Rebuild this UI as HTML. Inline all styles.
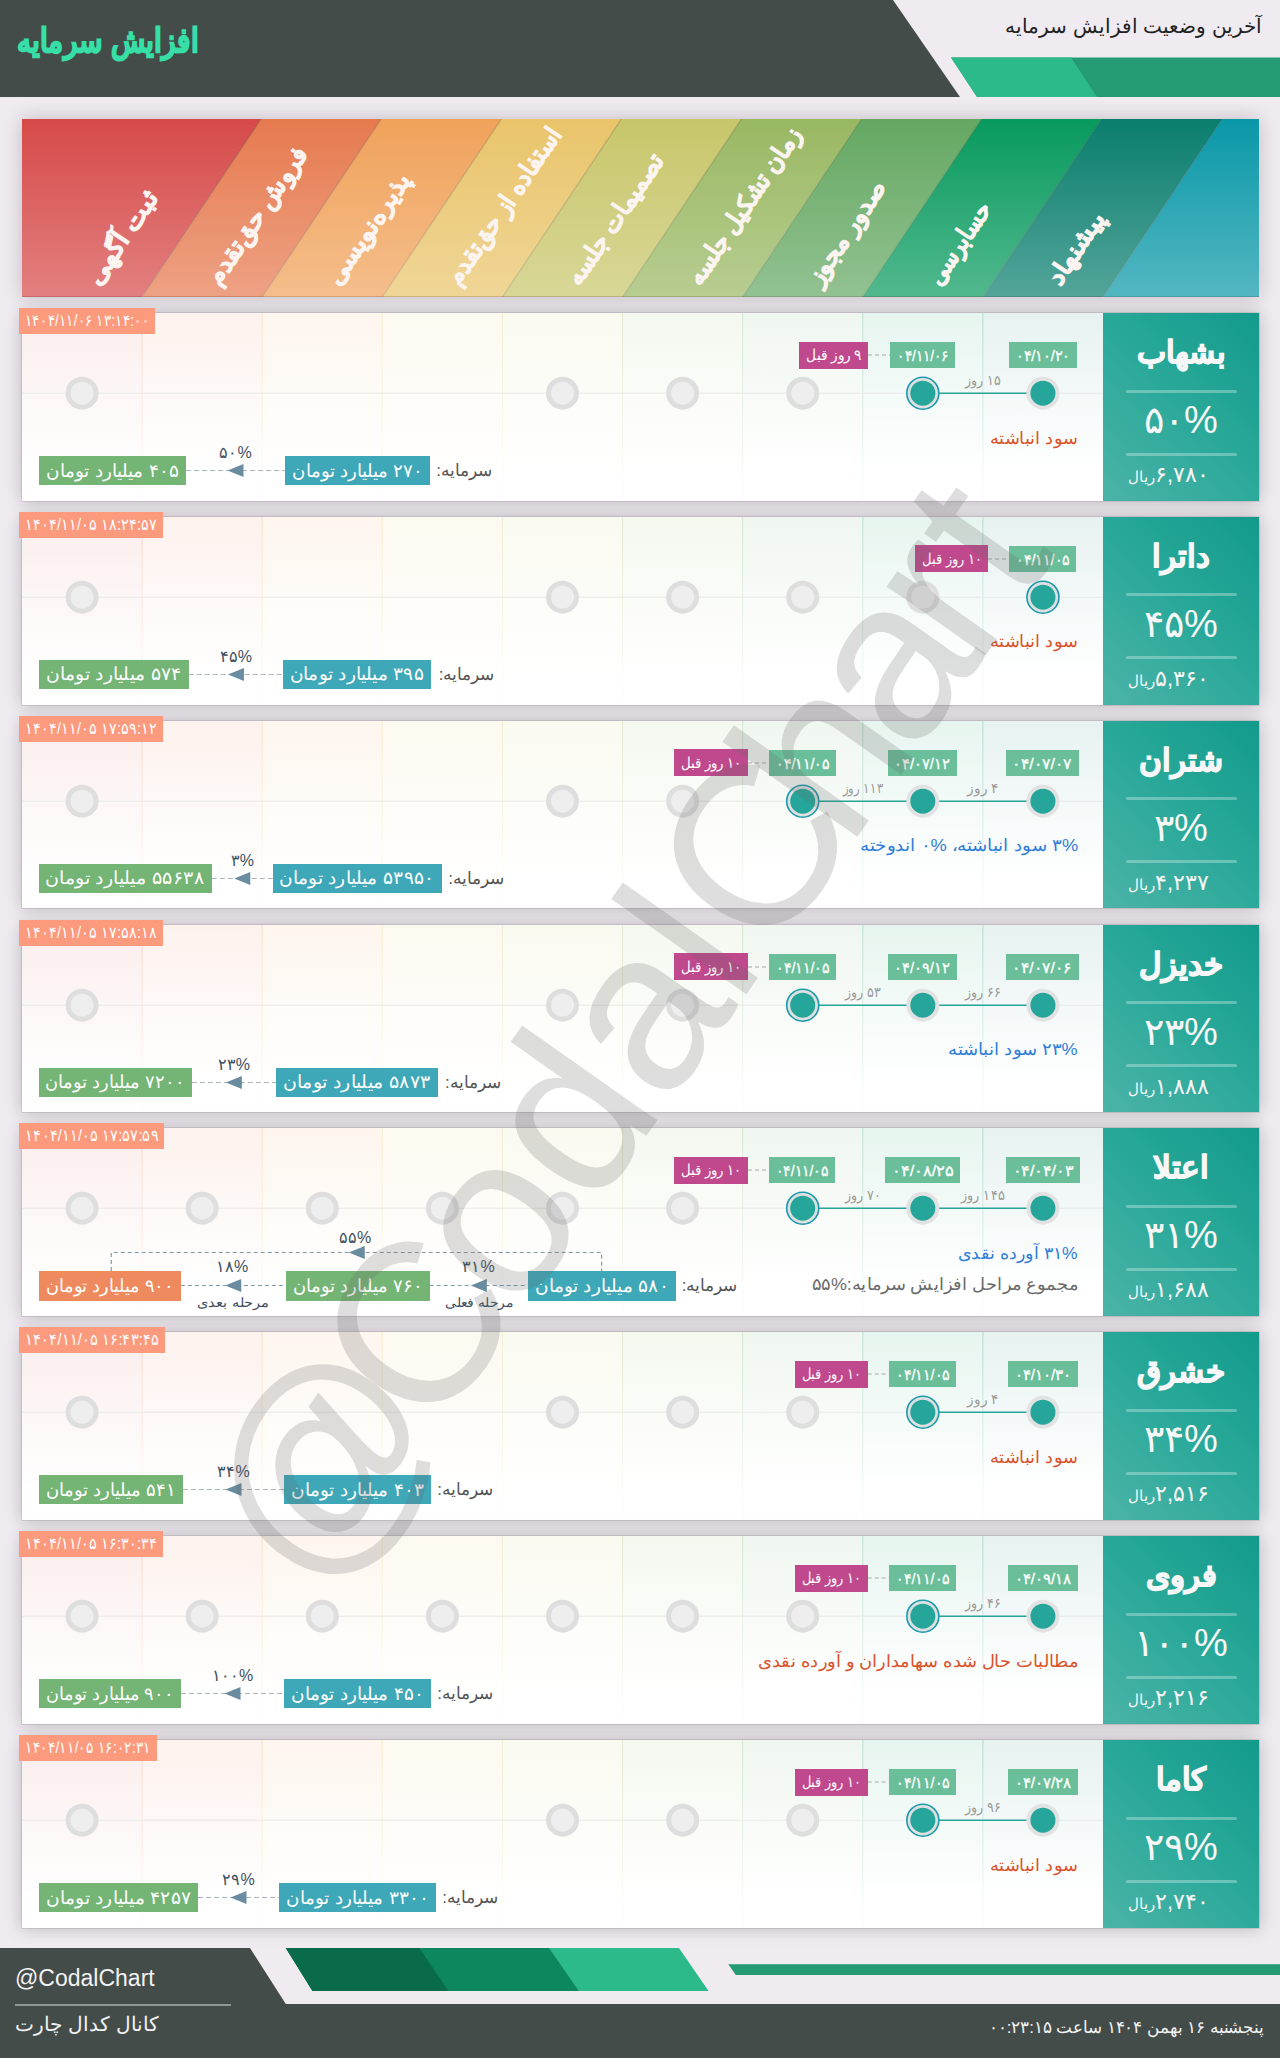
<!DOCTYPE html><html><head><meta charset="utf-8"><style>
*{margin:0;padding:0;box-sizing:border-box}
html,body{width:1280px;height:2058px;overflow:hidden}
body{position:relative;background:#efebf0;font-family:"Liberation Sans", sans-serif;}
.a{position:absolute}
.t{position:absolute;white-space:nowrap;line-height:1}
</style></head><body><svg class="a" style="left:0;top:0" width="1280" height="100"><polygon points="0,0 893,0 960,97 0,97" fill="#444c4a"/><polygon points="951,57.5 1280,57.5 1280,97 977,97" fill="#249b73"/><polygon points="951,57.5 1071,57.5 1097,97 977,97" fill="#2dba8a"/></svg><div class="t" style="left:17px;top:24px;font-size:33px;font-weight:bold;color:#37dea6;-webkit-text-stroke:1.6px #37dea6;direction:rtl;transform:scaleX(0.85);transform-origin:left center">افزایش سرمایه</div><div class="t" style="right:18px;top:16px;font-size:20px;color:#222;direction:rtl">آخرین وضعیت افزایش سرمایه</div><svg class="a" style="left:22px;top:119px;box-shadow:0 0 18px rgba(40,20,40,0.22)" width="1237" height="178"><defs><linearGradient id="wg" x1="0" y1="0" x2="0" y2="1"><stop offset="0" stop-color="#fff" stop-opacity="0"/><stop offset="1" stop-color="#fff" stop-opacity="0.3"/></linearGradient></defs><polygon points="0,0 239.111,0 120.111,178 0,178" fill="#d64a49"/><polygon points="239.111,0 359.222,0 240.222,178 120.111,178" fill="#e67a4f"/><polygon points="359.222,0 479.333,0 360.333,178 240.222,178" fill="#f0a25a"/><polygon points="479.333,0 599.444,0 480.444,178 360.333,178" fill="#e9c46a"/><polygon points="599.444,0 719.5550000000001,0 600.5550000000001,178 480.444,178" fill="#c8c66a"/><polygon points="719.5550000000001,0 839.666,0 720.666,178 600.5550000000001,178" fill="#99b862"/><polygon points="839.666,0 959.777,0 840.777,178 720.666,178" fill="#64a862"/><polygon points="959.777,0 1079.888,0 960.888,178 840.777,178" fill="#089a5e"/><polygon points="1079.888,0 1199.999,0 1080.999,178 960.888,178" fill="#0a7e6e"/><polygon points="1199.999,0 1237,0 1237,178 1080.999,178" fill="#0a98a8"/><line x1="239.111" y1="0" x2="120.111" y2="178" stroke="rgba(30,30,20,0.22)" stroke-width="1.2"/><line x1="359.222" y1="0" x2="240.222" y2="178" stroke="rgba(30,30,20,0.22)" stroke-width="1.2"/><line x1="479.333" y1="0" x2="360.333" y2="178" stroke="rgba(30,30,20,0.22)" stroke-width="1.2"/><line x1="599.444" y1="0" x2="480.444" y2="178" stroke="rgba(30,30,20,0.22)" stroke-width="1.2"/><line x1="719.5550000000001" y1="0" x2="600.5550000000001" y2="178" stroke="rgba(30,30,20,0.22)" stroke-width="1.2"/><line x1="839.666" y1="0" x2="720.666" y2="178" stroke="rgba(30,30,20,0.22)" stroke-width="1.2"/><line x1="959.777" y1="0" x2="840.777" y2="178" stroke="rgba(30,30,20,0.22)" stroke-width="1.2"/><line x1="1079.888" y1="0" x2="960.888" y2="178" stroke="rgba(30,30,20,0.22)" stroke-width="1.2"/><line x1="1199.999" y1="0" x2="1080.999" y2="178" stroke="rgba(30,30,20,0.22)" stroke-width="1.2"/><rect x="0" y="0" width="1237" height="178" fill="url(#wg)"/><rect x="0" y="177" width="1237" height="1" fill="rgba(60,20,20,0.18)"/><text x="77.0" y="168" transform="rotate(-56 77.0 168)" textLength="108" lengthAdjust="spacingAndGlyphs" font-family='"Liberation Sans", sans-serif' font-weight="bold" font-size="25" fill="#fcf4f0" stroke="#fcf4f0" stroke-width="0.8">ثبت آگهی</text><text x="197.1" y="168" transform="rotate(-56 197.1 168)" textLength="161" lengthAdjust="spacingAndGlyphs" font-family='"Liberation Sans", sans-serif' font-weight="bold" font-size="25" fill="#fcf4f0" stroke="#fcf4f0" stroke-width="0.8">فروش حق‌تقدم</text><text x="317.2" y="168" transform="rotate(-56 317.2 168)" textLength="129" lengthAdjust="spacingAndGlyphs" font-family='"Liberation Sans", sans-serif' font-weight="bold" font-size="25" fill="#fcf4f0" stroke="#fcf4f0" stroke-width="0.8">پذیره‌نویسی</text><text x="437.3" y="168" transform="rotate(-56 437.3 168)" textLength="184" lengthAdjust="spacingAndGlyphs" font-family='"Liberation Sans", sans-serif' font-weight="bold" font-size="25" fill="#fcf4f0" stroke="#fcf4f0" stroke-width="0.8">استفاده از حق‌تقدم</text><text x="557.4" y="168" transform="rotate(-56 557.4 168)" textLength="153" lengthAdjust="spacingAndGlyphs" font-family='"Liberation Sans", sans-serif' font-weight="bold" font-size="25" fill="#fcf4f0" stroke="#fcf4f0" stroke-width="0.8">تصمیمات جلسه</text><text x="677.6" y="168" transform="rotate(-56 677.6 168)" textLength="184" lengthAdjust="spacingAndGlyphs" font-family='"Liberation Sans", sans-serif' font-weight="bold" font-size="25" fill="#fcf4f0" stroke="#fcf4f0" stroke-width="0.8">زمان تشکیل جلسه</text><text x="797.7" y="168" transform="rotate(-56 797.7 168)" textLength="120" lengthAdjust="spacingAndGlyphs" font-family='"Liberation Sans", sans-serif' font-weight="bold" font-size="25" fill="#fcf4f0" stroke="#fcf4f0" stroke-width="0.8">صدور مجوز</text><text x="917.8" y="168" transform="rotate(-56 917.8 168)" textLength="94" lengthAdjust="spacingAndGlyphs" font-family='"Liberation Sans", sans-serif' font-weight="bold" font-size="25" fill="#fcf4f0" stroke="#fcf4f0" stroke-width="0.8">حسابرسی</text><text x="1037.9" y="168" transform="rotate(-56 1037.9 168)" textLength="82" lengthAdjust="spacingAndGlyphs" font-family='"Liberation Sans", sans-serif' font-weight="bold" font-size="25" fill="#fcf4f0" stroke="#fcf4f0" stroke-width="0.8">پیشنهاد</text></svg><div class="a" style="left:22px;top:313.00px;width:1237px;height:187.7px;background:#fff;box-shadow:0 0 0 1px rgba(0,0,0,0.09),0 0 16px rgba(40,20,40,0.26)"><svg class="a" style="left:0;top:0" width="1081" height="187"><defs><linearGradient id="cg0_0" x1="0" y1="0" x2="0" y2="1"><stop offset="0" stop-color="rgb(214,74,73)" stop-opacity="0.10"/><stop offset="0.85" stop-color="rgb(214,74,73)" stop-opacity="0"/></linearGradient><linearGradient id="cg0_1" x1="0" y1="0" x2="0" y2="1"><stop offset="0" stop-color="rgb(230,122,79)" stop-opacity="0.10"/><stop offset="0.85" stop-color="rgb(230,122,79)" stop-opacity="0"/></linearGradient><linearGradient id="cg0_2" x1="0" y1="0" x2="0" y2="1"><stop offset="0" stop-color="rgb(240,162,90)" stop-opacity="0.10"/><stop offset="0.85" stop-color="rgb(240,162,90)" stop-opacity="0"/></linearGradient><linearGradient id="cg0_3" x1="0" y1="0" x2="0" y2="1"><stop offset="0" stop-color="rgb(233,196,106)" stop-opacity="0.10"/><stop offset="0.85" stop-color="rgb(233,196,106)" stop-opacity="0"/></linearGradient><linearGradient id="cg0_4" x1="0" y1="0" x2="0" y2="1"><stop offset="0" stop-color="rgb(200,198,106)" stop-opacity="0.10"/><stop offset="0.85" stop-color="rgb(200,198,106)" stop-opacity="0"/></linearGradient><linearGradient id="cg0_5" x1="0" y1="0" x2="0" y2="1"><stop offset="0" stop-color="rgb(153,184,98)" stop-opacity="0.10"/><stop offset="0.85" stop-color="rgb(153,184,98)" stop-opacity="0"/></linearGradient><linearGradient id="cg0_6" x1="0" y1="0" x2="0" y2="1"><stop offset="0" stop-color="rgb(100,168,98)" stop-opacity="0.10"/><stop offset="0.85" stop-color="rgb(100,168,98)" stop-opacity="0"/></linearGradient><linearGradient id="cg0_7" x1="0" y1="0" x2="0" y2="1"><stop offset="0" stop-color="rgb(8,154,94)" stop-opacity="0.10"/><stop offset="0.85" stop-color="rgb(8,154,94)" stop-opacity="0"/></linearGradient><linearGradient id="cg0_8" x1="0" y1="0" x2="0" y2="1"><stop offset="0" stop-color="rgb(10,126,110)" stop-opacity="0.10"/><stop offset="0.85" stop-color="rgb(10,126,110)" stop-opacity="0"/></linearGradient></defs><rect x="0.00" y="0" width="120.11" height="187" fill="url(#cg0_0)"/><rect x="120.11" y="0" width="120.11" height="187" fill="url(#cg0_1)"/><rect x="240.22" y="0" width="120.11" height="187" fill="url(#cg0_2)"/><rect x="360.33" y="0" width="120.11" height="187" fill="url(#cg0_3)"/><rect x="480.44" y="0" width="120.11" height="187" fill="url(#cg0_4)"/><rect x="600.56" y="0" width="120.11" height="187" fill="url(#cg0_5)"/><rect x="720.67" y="0" width="120.11" height="187" fill="url(#cg0_6)"/><rect x="840.78" y="0" width="120.11" height="187" fill="url(#cg0_7)"/><rect x="960.89" y="0" width="120.11" height="187" fill="url(#cg0_8)"/><linearGradient id="lg0_1" x1="0" y1="0" x2="0" y2="1"><stop offset="0" stop-color="rgb(230,122,79)" stop-opacity="0.22"/><stop offset="1" stop-color="rgb(230,122,79)" stop-opacity="0.03"/></linearGradient><rect x="119.61" y="0" width="1" height="187" fill="url(#lg0_1)"/><linearGradient id="lg0_2" x1="0" y1="0" x2="0" y2="1"><stop offset="0" stop-color="rgb(240,162,90)" stop-opacity="0.22"/><stop offset="1" stop-color="rgb(240,162,90)" stop-opacity="0.03"/></linearGradient><rect x="239.72" y="0" width="1" height="187" fill="url(#lg0_2)"/><linearGradient id="lg0_3" x1="0" y1="0" x2="0" y2="1"><stop offset="0" stop-color="rgb(233,196,106)" stop-opacity="0.22"/><stop offset="1" stop-color="rgb(233,196,106)" stop-opacity="0.03"/></linearGradient><rect x="359.83" y="0" width="1" height="187" fill="url(#lg0_3)"/><linearGradient id="lg0_4" x1="0" y1="0" x2="0" y2="1"><stop offset="0" stop-color="rgb(200,198,106)" stop-opacity="0.22"/><stop offset="1" stop-color="rgb(200,198,106)" stop-opacity="0.03"/></linearGradient><rect x="479.94" y="0" width="1" height="187" fill="url(#lg0_4)"/><linearGradient id="lg0_5" x1="0" y1="0" x2="0" y2="1"><stop offset="0" stop-color="rgb(153,184,98)" stop-opacity="0.22"/><stop offset="1" stop-color="rgb(153,184,98)" stop-opacity="0.03"/></linearGradient><rect x="600.06" y="0" width="1" height="187" fill="url(#lg0_5)"/><linearGradient id="lg0_6" x1="0" y1="0" x2="0" y2="1"><stop offset="0" stop-color="rgb(100,168,98)" stop-opacity="0.22"/><stop offset="1" stop-color="rgb(100,168,98)" stop-opacity="0.03"/></linearGradient><rect x="720.17" y="0" width="1" height="187" fill="url(#lg0_6)"/><linearGradient id="lg0_7" x1="0" y1="0" x2="0" y2="1"><stop offset="0" stop-color="rgb(8,154,94)" stop-opacity="0.22"/><stop offset="1" stop-color="rgb(8,154,94)" stop-opacity="0.03"/></linearGradient><rect x="840.28" y="0" width="1" height="187" fill="url(#lg0_7)"/><linearGradient id="lg0_8" x1="0" y1="0" x2="0" y2="1"><stop offset="0" stop-color="rgb(10,126,110)" stop-opacity="0.22"/><stop offset="1" stop-color="rgb(10,126,110)" stop-opacity="0.03"/></linearGradient><rect x="960.39" y="0" width="1" height="187" fill="url(#lg0_8)"/><line x1="0" y1="80.2" x2="1081" y2="80.2" stroke="#e8e8e8" stroke-width="1"/></svg><div class="a" style="left:1081px;top:0;width:156px;height:187.7px;background:linear-gradient(225deg,#129a8b 0%,#2aa99a 50%,#4cb3a8 100%)"></div></div><div id="t1" class="t" style="left:1181.00px;top:352.00px;font-size:31px;color:#f7f7f7;font-weight:bold;direction:rtl;transform:translate(-50%,-50%) scaleX(1.0000);transform-origin:center center;-webkit-text-stroke:1.2px #f7f7f7;">بشهاب</div><div class="a" style="left:1126px;top:389.50px;width:111px;height:3px;border-radius:2px;background:rgba(255,255,255,0.3)"></div><div class="a" style="left:1126px;top:452.50px;width:111px;height:3px;border-radius:2px;background:rgba(255,255,255,0.3)"></div><div id="t2" class="t" style="left:1181.00px;top:420.00px;font-size:38px;color:#f7f7f7;font-weight:normal;direction:rtl;transform:translate(-50%,-50%) scaleX(1.0000);transform-origin:center center;">۵۰%</div><div class="t" style="right:71.0px;top:475.00px;transform:translateY(-50%);color:#f7f7f7;direction:ltr"><span style="display:inline-block;font-size:14.5px">ریال</span><span style="display:inline-block;font-size:22px">۶,۷۸۰</span></div><div class="a" style="left:19px;top:308.00px;width:136px;height:26px;background:#fc9a7e"></div><div id="t3" class="t" style="left:87.00px;top:321.00px;font-size:16px;color:#fff;font-weight:normal;direction:ltr;transform:translate(-50%,-50%) scaleX(0.8378);transform-origin:center center;">۱۴۰۴/۱۱/۰۶ ۱۳:۱۴:۰۰</div><svg class="a" style="left:0;top:313.00px" width="1103" height="187"><line x1="922.83" y1="80.2" x2="1042.94" y2="80.2" stroke="#26a69a" stroke-width="1.6"/><circle cx="82.06" cy="80.2" r="14" fill="#eeeeee" stroke="#dedede" stroke-width="5"/><circle cx="562.50" cy="80.2" r="14" fill="#eeeeee" stroke="#dedede" stroke-width="5"/><circle cx="682.61" cy="80.2" r="14" fill="#eeeeee" stroke="#dedede" stroke-width="5"/><circle cx="802.72" cy="80.2" r="14" fill="#eeeeee" stroke="#dedede" stroke-width="5"/><circle cx="1042.94" cy="80.2" r="14.5" fill="#26a69a" stroke="#e2e2e2" stroke-width="4"/><circle cx="922.83" cy="80.2" r="16" fill="#e0e0e0" stroke="#1b9bae" stroke-width="1.6"/><circle cx="922.83" cy="80.2" r="12.5" fill="#26a69a"/><line x1="868.00" y1="42" x2="890.00" y2="42" stroke="#a8a8a8" stroke-width="1.2" stroke-dasharray="4,3"/></svg><div class="a" style="left:1009.00px;top:342.00px;width:68.00px;height:26px;background:#6abf9a"></div><div id="t4" class="t" style="left:1043.00px;top:355.00px;font-size:15px;color:#fff;font-weight:normal;direction:ltr;transform:translate(-50%,-50%) scaleX(0.9643);transform-origin:center center;-webkit-text-stroke:0.3px #fff;">۰۴/۱۰/۲۰</div><div class="a" style="left:890.00px;top:342.00px;width:65.00px;height:26px;background:#6abf9a"></div><div id="t5" class="t" style="left:922.50px;top:355.00px;font-size:15px;color:#fff;font-weight:normal;direction:ltr;transform:translate(-50%,-50%) scaleX(0.9107);transform-origin:center center;-webkit-text-stroke:0.3px #fff;">۰۴/۱۱/۰۶</div><div class="a" style="left:799.00px;top:341.50px;width:69.00px;height:27px;background:#c0498d"></div><div id="t6" class="t" style="left:833.50px;top:355.00px;font-size:14.5px;color:#fff;font-weight:normal;direction:rtl;transform:translate(-50%,-50%) scaleX(0.9167);transform-origin:center center;">۹ روز قبل</div><div id="t7" class="t" style="left:982.89px;top:380.00px;font-size:14px;color:#999;font-weight:normal;direction:rtl;transform:translate(-50%,-50%) scaleX(0.9024);transform-origin:center center;">۱۵ روز</div><div id="t8" class="t" style="right:202.00px;top:437.50px;font-size:17px;color:#d9532b;font-weight:normal;direction:rtl;transform:translateY(-50%) scaleX(1.0476);transform-origin:right center;">سود انباشته</div><div class="a" style="left:39.00px;top:456.00px;width:147.00px;height:29px;background:#74b474"></div><div id="t9" class="t" style="left:112.50px;top:470.50px;font-size:18px;color:#fff;font-weight:normal;direction:rtl;transform:translate(-50%,-50%) scaleX(1.0231);transform-origin:center center;">۴۰۵ میلیارد تومان</div><div class="a" style="left:285.00px;top:456.00px;width:145.00px;height:29px;background:#3ea7b8"></div><div id="t10" class="t" style="left:357.50px;top:470.50px;font-size:18px;color:#fff;font-weight:normal;direction:rtl;transform:translate(-50%,-50%) scaleX(1.0077);transform-origin:center center;">۲۷۰ میلیارد تومان</div><div id="t11" class="t" style="right:788.00px;top:470.00px;font-size:17px;color:#555;font-weight:normal;direction:rtl;transform:translateY(-50%) scaleX(1.0000);transform-origin:right center;">سرمایه:</div><svg class="a" style="left:0;top:313.00px" width="700" height="187"><line x1="186.00" y1="157.5" x2="285.00" y2="157.5" stroke="#aab4bc" stroke-width="1.2" stroke-dasharray="5,3"/><polygon points="227.50,157.5 243.50,151 243.50,164" fill="#6a8ca0"/></svg><div id="t12" class="t" style="left:235.50px;top:453.00px;font-size:16px;color:#3e5060;font-weight:normal;direction:rtl;transform:translate(-50%,-50%) scaleX(1.0000);transform-origin:center center;">۵۰%</div><div class="a" style="left:22px;top:516.86px;width:1237px;height:187.7px;background:#fff;box-shadow:0 0 0 1px rgba(0,0,0,0.09),0 0 16px rgba(40,20,40,0.26)"><svg class="a" style="left:0;top:0" width="1081" height="187"><defs><linearGradient id="cg1_0" x1="0" y1="0" x2="0" y2="1"><stop offset="0" stop-color="rgb(214,74,73)" stop-opacity="0.10"/><stop offset="0.85" stop-color="rgb(214,74,73)" stop-opacity="0"/></linearGradient><linearGradient id="cg1_1" x1="0" y1="0" x2="0" y2="1"><stop offset="0" stop-color="rgb(230,122,79)" stop-opacity="0.10"/><stop offset="0.85" stop-color="rgb(230,122,79)" stop-opacity="0"/></linearGradient><linearGradient id="cg1_2" x1="0" y1="0" x2="0" y2="1"><stop offset="0" stop-color="rgb(240,162,90)" stop-opacity="0.10"/><stop offset="0.85" stop-color="rgb(240,162,90)" stop-opacity="0"/></linearGradient><linearGradient id="cg1_3" x1="0" y1="0" x2="0" y2="1"><stop offset="0" stop-color="rgb(233,196,106)" stop-opacity="0.10"/><stop offset="0.85" stop-color="rgb(233,196,106)" stop-opacity="0"/></linearGradient><linearGradient id="cg1_4" x1="0" y1="0" x2="0" y2="1"><stop offset="0" stop-color="rgb(200,198,106)" stop-opacity="0.10"/><stop offset="0.85" stop-color="rgb(200,198,106)" stop-opacity="0"/></linearGradient><linearGradient id="cg1_5" x1="0" y1="0" x2="0" y2="1"><stop offset="0" stop-color="rgb(153,184,98)" stop-opacity="0.10"/><stop offset="0.85" stop-color="rgb(153,184,98)" stop-opacity="0"/></linearGradient><linearGradient id="cg1_6" x1="0" y1="0" x2="0" y2="1"><stop offset="0" stop-color="rgb(100,168,98)" stop-opacity="0.10"/><stop offset="0.85" stop-color="rgb(100,168,98)" stop-opacity="0"/></linearGradient><linearGradient id="cg1_7" x1="0" y1="0" x2="0" y2="1"><stop offset="0" stop-color="rgb(8,154,94)" stop-opacity="0.10"/><stop offset="0.85" stop-color="rgb(8,154,94)" stop-opacity="0"/></linearGradient><linearGradient id="cg1_8" x1="0" y1="0" x2="0" y2="1"><stop offset="0" stop-color="rgb(10,126,110)" stop-opacity="0.10"/><stop offset="0.85" stop-color="rgb(10,126,110)" stop-opacity="0"/></linearGradient></defs><rect x="0.00" y="0" width="120.11" height="187" fill="url(#cg1_0)"/><rect x="120.11" y="0" width="120.11" height="187" fill="url(#cg1_1)"/><rect x="240.22" y="0" width="120.11" height="187" fill="url(#cg1_2)"/><rect x="360.33" y="0" width="120.11" height="187" fill="url(#cg1_3)"/><rect x="480.44" y="0" width="120.11" height="187" fill="url(#cg1_4)"/><rect x="600.56" y="0" width="120.11" height="187" fill="url(#cg1_5)"/><rect x="720.67" y="0" width="120.11" height="187" fill="url(#cg1_6)"/><rect x="840.78" y="0" width="120.11" height="187" fill="url(#cg1_7)"/><rect x="960.89" y="0" width="120.11" height="187" fill="url(#cg1_8)"/><linearGradient id="lg1_1" x1="0" y1="0" x2="0" y2="1"><stop offset="0" stop-color="rgb(230,122,79)" stop-opacity="0.22"/><stop offset="1" stop-color="rgb(230,122,79)" stop-opacity="0.03"/></linearGradient><rect x="119.61" y="0" width="1" height="187" fill="url(#lg1_1)"/><linearGradient id="lg1_2" x1="0" y1="0" x2="0" y2="1"><stop offset="0" stop-color="rgb(240,162,90)" stop-opacity="0.22"/><stop offset="1" stop-color="rgb(240,162,90)" stop-opacity="0.03"/></linearGradient><rect x="239.72" y="0" width="1" height="187" fill="url(#lg1_2)"/><linearGradient id="lg1_3" x1="0" y1="0" x2="0" y2="1"><stop offset="0" stop-color="rgb(233,196,106)" stop-opacity="0.22"/><stop offset="1" stop-color="rgb(233,196,106)" stop-opacity="0.03"/></linearGradient><rect x="359.83" y="0" width="1" height="187" fill="url(#lg1_3)"/><linearGradient id="lg1_4" x1="0" y1="0" x2="0" y2="1"><stop offset="0" stop-color="rgb(200,198,106)" stop-opacity="0.22"/><stop offset="1" stop-color="rgb(200,198,106)" stop-opacity="0.03"/></linearGradient><rect x="479.94" y="0" width="1" height="187" fill="url(#lg1_4)"/><linearGradient id="lg1_5" x1="0" y1="0" x2="0" y2="1"><stop offset="0" stop-color="rgb(153,184,98)" stop-opacity="0.22"/><stop offset="1" stop-color="rgb(153,184,98)" stop-opacity="0.03"/></linearGradient><rect x="600.06" y="0" width="1" height="187" fill="url(#lg1_5)"/><linearGradient id="lg1_6" x1="0" y1="0" x2="0" y2="1"><stop offset="0" stop-color="rgb(100,168,98)" stop-opacity="0.22"/><stop offset="1" stop-color="rgb(100,168,98)" stop-opacity="0.03"/></linearGradient><rect x="720.17" y="0" width="1" height="187" fill="url(#lg1_6)"/><linearGradient id="lg1_7" x1="0" y1="0" x2="0" y2="1"><stop offset="0" stop-color="rgb(8,154,94)" stop-opacity="0.22"/><stop offset="1" stop-color="rgb(8,154,94)" stop-opacity="0.03"/></linearGradient><rect x="840.28" y="0" width="1" height="187" fill="url(#lg1_7)"/><linearGradient id="lg1_8" x1="0" y1="0" x2="0" y2="1"><stop offset="0" stop-color="rgb(10,126,110)" stop-opacity="0.22"/><stop offset="1" stop-color="rgb(10,126,110)" stop-opacity="0.03"/></linearGradient><rect x="960.39" y="0" width="1" height="187" fill="url(#lg1_8)"/><line x1="0" y1="80.2" x2="1081" y2="80.2" stroke="#e8e8e8" stroke-width="1"/></svg><div class="a" style="left:1081px;top:0;width:156px;height:187.7px;background:linear-gradient(225deg,#129a8b 0%,#2aa99a 50%,#4cb3a8 100%)"></div></div><div id="t13" class="t" style="left:1181.00px;top:555.86px;font-size:31px;color:#f7f7f7;font-weight:bold;direction:rtl;transform:translate(-50%,-50%) scaleX(1.0000);transform-origin:center center;-webkit-text-stroke:1.2px #f7f7f7;">داترا</div><div class="a" style="left:1126px;top:593.36px;width:111px;height:3px;border-radius:2px;background:rgba(255,255,255,0.3)"></div><div class="a" style="left:1126px;top:656.36px;width:111px;height:3px;border-radius:2px;background:rgba(255,255,255,0.3)"></div><div id="t14" class="t" style="left:1181.00px;top:623.86px;font-size:38px;color:#f7f7f7;font-weight:normal;direction:rtl;transform:translate(-50%,-50%) scaleX(1.0000);transform-origin:center center;">۴۵%</div><div class="t" style="right:71.0px;top:678.86px;transform:translateY(-50%);color:#f7f7f7;direction:ltr"><span style="display:inline-block;font-size:14.5px">ریال</span><span style="display:inline-block;font-size:22px">۵,۳۶۰</span></div><div class="a" style="left:19px;top:511.86px;width:144px;height:26px;background:#fc9a7e"></div><div id="t15" class="t" style="left:91.00px;top:524.86px;font-size:16px;color:#fff;font-weight:normal;direction:ltr;transform:translate(-50%,-50%) scaleX(0.8919);transform-origin:center center;">۱۴۰۴/۱۱/۰۵ ۱۸:۲۴:۵۷</div><svg class="a" style="left:0;top:516.86px" width="1103" height="187"><circle cx="82.06" cy="80.2" r="14" fill="#eeeeee" stroke="#dedede" stroke-width="5"/><circle cx="562.50" cy="80.2" r="14" fill="#eeeeee" stroke="#dedede" stroke-width="5"/><circle cx="682.61" cy="80.2" r="14" fill="#eeeeee" stroke="#dedede" stroke-width="5"/><circle cx="802.72" cy="80.2" r="14" fill="#eeeeee" stroke="#dedede" stroke-width="5"/><circle cx="922.83" cy="80.2" r="14" fill="#eeeeee" stroke="#dedede" stroke-width="5"/><circle cx="1042.94" cy="80.2" r="16" fill="#e0e0e0" stroke="#1b9bae" stroke-width="1.6"/><circle cx="1042.94" cy="80.2" r="12.5" fill="#26a69a"/><line x1="988.00" y1="42" x2="1009.00" y2="42" stroke="#a8a8a8" stroke-width="1.2" stroke-dasharray="4,3"/></svg><div class="a" style="left:1009.00px;top:545.86px;width:67.00px;height:26px;background:#6abf9a"></div><div id="t16" class="t" style="left:1042.50px;top:558.86px;font-size:15px;color:#fff;font-weight:normal;direction:ltr;transform:translate(-50%,-50%) scaleX(0.9464);transform-origin:center center;-webkit-text-stroke:0.3px #fff;">۰۴/۱۱/۰۵</div><div class="a" style="left:915.00px;top:545.36px;width:73.00px;height:27px;background:#c0498d"></div><div id="t17" class="t" style="left:951.50px;top:558.86px;font-size:14.5px;color:#fff;font-weight:normal;direction:rtl;transform:translate(-50%,-50%) scaleX(0.8676);transform-origin:center center;">۱۰ روز قبل</div><div id="t18" class="t" style="right:202.00px;top:641.36px;font-size:17px;color:#d9532b;font-weight:normal;direction:rtl;transform:translateY(-50%) scaleX(1.0476);transform-origin:right center;">سود انباشته</div><div class="a" style="left:39.00px;top:659.86px;width:149.60px;height:29px;background:#74b474"></div><div id="t19" class="t" style="left:113.80px;top:674.36px;font-size:18px;color:#fff;font-weight:normal;direction:rtl;transform:translate(-50%,-50%) scaleX(1.0431);transform-origin:center center;">۵۷۴ میلیارد تومان</div><div class="a" style="left:283.30px;top:659.86px;width:148.20px;height:29px;background:#3ea7b8"></div><div id="t20" class="t" style="left:357.40px;top:674.36px;font-size:18px;color:#fff;font-weight:normal;direction:rtl;transform:translate(-50%,-50%) scaleX(1.0323);transform-origin:center center;">۳۹۵ میلیارد تومان</div><div id="t21" class="t" style="right:785.50px;top:673.86px;font-size:17px;color:#555;font-weight:normal;direction:rtl;transform:translateY(-50%) scaleX(1.0000);transform-origin:right center;">سرمایه:</div><svg class="a" style="left:0;top:516.86px" width="700" height="187"><line x1="188.60" y1="157.5" x2="283.30" y2="157.5" stroke="#aab4bc" stroke-width="1.2" stroke-dasharray="5,3"/><polygon points="227.95,157.5 243.95,151 243.95,164" fill="#6a8ca0"/></svg><div id="t22" class="t" style="left:235.95px;top:656.86px;font-size:16px;color:#3e5060;font-weight:normal;direction:rtl;transform:translate(-50%,-50%) scaleX(1.0000);transform-origin:center center;">۴۵%</div><div class="a" style="left:22px;top:720.71px;width:1237px;height:187.7px;background:#fff;box-shadow:0 0 0 1px rgba(0,0,0,0.09),0 0 16px rgba(40,20,40,0.26)"><svg class="a" style="left:0;top:0" width="1081" height="187"><defs><linearGradient id="cg2_0" x1="0" y1="0" x2="0" y2="1"><stop offset="0" stop-color="rgb(214,74,73)" stop-opacity="0.10"/><stop offset="0.85" stop-color="rgb(214,74,73)" stop-opacity="0"/></linearGradient><linearGradient id="cg2_1" x1="0" y1="0" x2="0" y2="1"><stop offset="0" stop-color="rgb(230,122,79)" stop-opacity="0.10"/><stop offset="0.85" stop-color="rgb(230,122,79)" stop-opacity="0"/></linearGradient><linearGradient id="cg2_2" x1="0" y1="0" x2="0" y2="1"><stop offset="0" stop-color="rgb(240,162,90)" stop-opacity="0.10"/><stop offset="0.85" stop-color="rgb(240,162,90)" stop-opacity="0"/></linearGradient><linearGradient id="cg2_3" x1="0" y1="0" x2="0" y2="1"><stop offset="0" stop-color="rgb(233,196,106)" stop-opacity="0.10"/><stop offset="0.85" stop-color="rgb(233,196,106)" stop-opacity="0"/></linearGradient><linearGradient id="cg2_4" x1="0" y1="0" x2="0" y2="1"><stop offset="0" stop-color="rgb(200,198,106)" stop-opacity="0.10"/><stop offset="0.85" stop-color="rgb(200,198,106)" stop-opacity="0"/></linearGradient><linearGradient id="cg2_5" x1="0" y1="0" x2="0" y2="1"><stop offset="0" stop-color="rgb(153,184,98)" stop-opacity="0.10"/><stop offset="0.85" stop-color="rgb(153,184,98)" stop-opacity="0"/></linearGradient><linearGradient id="cg2_6" x1="0" y1="0" x2="0" y2="1"><stop offset="0" stop-color="rgb(100,168,98)" stop-opacity="0.10"/><stop offset="0.85" stop-color="rgb(100,168,98)" stop-opacity="0"/></linearGradient><linearGradient id="cg2_7" x1="0" y1="0" x2="0" y2="1"><stop offset="0" stop-color="rgb(8,154,94)" stop-opacity="0.10"/><stop offset="0.85" stop-color="rgb(8,154,94)" stop-opacity="0"/></linearGradient><linearGradient id="cg2_8" x1="0" y1="0" x2="0" y2="1"><stop offset="0" stop-color="rgb(10,126,110)" stop-opacity="0.10"/><stop offset="0.85" stop-color="rgb(10,126,110)" stop-opacity="0"/></linearGradient></defs><rect x="0.00" y="0" width="120.11" height="187" fill="url(#cg2_0)"/><rect x="120.11" y="0" width="120.11" height="187" fill="url(#cg2_1)"/><rect x="240.22" y="0" width="120.11" height="187" fill="url(#cg2_2)"/><rect x="360.33" y="0" width="120.11" height="187" fill="url(#cg2_3)"/><rect x="480.44" y="0" width="120.11" height="187" fill="url(#cg2_4)"/><rect x="600.56" y="0" width="120.11" height="187" fill="url(#cg2_5)"/><rect x="720.67" y="0" width="120.11" height="187" fill="url(#cg2_6)"/><rect x="840.78" y="0" width="120.11" height="187" fill="url(#cg2_7)"/><rect x="960.89" y="0" width="120.11" height="187" fill="url(#cg2_8)"/><linearGradient id="lg2_1" x1="0" y1="0" x2="0" y2="1"><stop offset="0" stop-color="rgb(230,122,79)" stop-opacity="0.22"/><stop offset="1" stop-color="rgb(230,122,79)" stop-opacity="0.03"/></linearGradient><rect x="119.61" y="0" width="1" height="187" fill="url(#lg2_1)"/><linearGradient id="lg2_2" x1="0" y1="0" x2="0" y2="1"><stop offset="0" stop-color="rgb(240,162,90)" stop-opacity="0.22"/><stop offset="1" stop-color="rgb(240,162,90)" stop-opacity="0.03"/></linearGradient><rect x="239.72" y="0" width="1" height="187" fill="url(#lg2_2)"/><linearGradient id="lg2_3" x1="0" y1="0" x2="0" y2="1"><stop offset="0" stop-color="rgb(233,196,106)" stop-opacity="0.22"/><stop offset="1" stop-color="rgb(233,196,106)" stop-opacity="0.03"/></linearGradient><rect x="359.83" y="0" width="1" height="187" fill="url(#lg2_3)"/><linearGradient id="lg2_4" x1="0" y1="0" x2="0" y2="1"><stop offset="0" stop-color="rgb(200,198,106)" stop-opacity="0.22"/><stop offset="1" stop-color="rgb(200,198,106)" stop-opacity="0.03"/></linearGradient><rect x="479.94" y="0" width="1" height="187" fill="url(#lg2_4)"/><linearGradient id="lg2_5" x1="0" y1="0" x2="0" y2="1"><stop offset="0" stop-color="rgb(153,184,98)" stop-opacity="0.22"/><stop offset="1" stop-color="rgb(153,184,98)" stop-opacity="0.03"/></linearGradient><rect x="600.06" y="0" width="1" height="187" fill="url(#lg2_5)"/><linearGradient id="lg2_6" x1="0" y1="0" x2="0" y2="1"><stop offset="0" stop-color="rgb(100,168,98)" stop-opacity="0.22"/><stop offset="1" stop-color="rgb(100,168,98)" stop-opacity="0.03"/></linearGradient><rect x="720.17" y="0" width="1" height="187" fill="url(#lg2_6)"/><linearGradient id="lg2_7" x1="0" y1="0" x2="0" y2="1"><stop offset="0" stop-color="rgb(8,154,94)" stop-opacity="0.22"/><stop offset="1" stop-color="rgb(8,154,94)" stop-opacity="0.03"/></linearGradient><rect x="840.28" y="0" width="1" height="187" fill="url(#lg2_7)"/><linearGradient id="lg2_8" x1="0" y1="0" x2="0" y2="1"><stop offset="0" stop-color="rgb(10,126,110)" stop-opacity="0.22"/><stop offset="1" stop-color="rgb(10,126,110)" stop-opacity="0.03"/></linearGradient><rect x="960.39" y="0" width="1" height="187" fill="url(#lg2_8)"/><line x1="0" y1="80.2" x2="1081" y2="80.2" stroke="#e8e8e8" stroke-width="1"/></svg><div class="a" style="left:1081px;top:0;width:156px;height:187.7px;background:linear-gradient(225deg,#129a8b 0%,#2aa99a 50%,#4cb3a8 100%)"></div></div><div id="t23" class="t" style="left:1181.00px;top:759.71px;font-size:31px;color:#f7f7f7;font-weight:bold;direction:rtl;transform:translate(-50%,-50%) scaleX(1.0000);transform-origin:center center;-webkit-text-stroke:1.2px #f7f7f7;">شتران</div><div class="a" style="left:1126px;top:797.21px;width:111px;height:3px;border-radius:2px;background:rgba(255,255,255,0.3)"></div><div class="a" style="left:1126px;top:860.21px;width:111px;height:3px;border-radius:2px;background:rgba(255,255,255,0.3)"></div><div id="t24" class="t" style="left:1181.00px;top:827.71px;font-size:38px;color:#f7f7f7;font-weight:normal;direction:rtl;transform:translate(-50%,-50%) scaleX(1.0000);transform-origin:center center;">۳%</div><div class="t" style="right:71.0px;top:882.71px;transform:translateY(-50%);color:#f7f7f7;direction:ltr"><span style="display:inline-block;font-size:14.5px">ریال</span><span style="display:inline-block;font-size:22px">۴,۲۳۷</span></div><div class="a" style="left:19px;top:715.71px;width:144px;height:26px;background:#fc9a7e"></div><div id="t25" class="t" style="left:91.00px;top:728.71px;font-size:16px;color:#fff;font-weight:normal;direction:ltr;transform:translate(-50%,-50%) scaleX(0.8919);transform-origin:center center;">۱۴۰۴/۱۱/۰۵ ۱۷:۵۹:۱۲</div><svg class="a" style="left:0;top:720.71px" width="1103" height="187"><line x1="802.72" y1="80.2" x2="1042.94" y2="80.2" stroke="#26a69a" stroke-width="1.6"/><circle cx="82.06" cy="80.2" r="14" fill="#eeeeee" stroke="#dedede" stroke-width="5"/><circle cx="562.50" cy="80.2" r="14" fill="#eeeeee" stroke="#dedede" stroke-width="5"/><circle cx="682.61" cy="80.2" r="14" fill="#eeeeee" stroke="#dedede" stroke-width="5"/><circle cx="922.83" cy="80.2" r="14.5" fill="#26a69a" stroke="#e2e2e2" stroke-width="4"/><circle cx="1042.94" cy="80.2" r="14.5" fill="#26a69a" stroke="#e2e2e2" stroke-width="4"/><circle cx="802.72" cy="80.2" r="16" fill="#e0e0e0" stroke="#1b9bae" stroke-width="1.6"/><circle cx="802.72" cy="80.2" r="12.5" fill="#26a69a"/><line x1="748.00" y1="42" x2="769.30" y2="42" stroke="#a8a8a8" stroke-width="1.2" stroke-dasharray="4,3"/></svg><div class="a" style="left:1006.00px;top:749.71px;width:72.70px;height:26px;background:#6abf9a"></div><div id="t26" class="t" style="left:1042.35px;top:762.71px;font-size:15px;color:#fff;font-weight:normal;direction:ltr;transform:translate(-50%,-50%) scaleX(1.0482);transform-origin:center center;-webkit-text-stroke:0.3px #fff;">۰۴/۰۷/۰۷</div><div class="a" style="left:888.00px;top:749.71px;width:68.70px;height:26px;background:#6abf9a"></div><div id="t27" class="t" style="left:922.35px;top:762.71px;font-size:15px;color:#fff;font-weight:normal;direction:ltr;transform:translate(-50%,-50%) scaleX(0.9768);transform-origin:center center;-webkit-text-stroke:0.3px #fff;">۰۴/۰۷/۱۲</div><div class="a" style="left:769.30px;top:749.71px;width:66.70px;height:26px;background:#6abf9a"></div><div id="t28" class="t" style="left:802.65px;top:762.71px;font-size:15px;color:#fff;font-weight:normal;direction:ltr;transform:translate(-50%,-50%) scaleX(0.9411);transform-origin:center center;-webkit-text-stroke:0.3px #fff;">۰۴/۱۱/۰۵</div><div class="a" style="left:673.75px;top:749.21px;width:74.25px;height:27px;background:#c0498d"></div><div id="t29" class="t" style="left:710.88px;top:762.71px;font-size:14.5px;color:#fff;font-weight:normal;direction:rtl;transform:translate(-50%,-50%) scaleX(0.8860);transform-origin:center center;">۱۰ روز قبل</div><div id="t30" class="t" style="left:982.89px;top:787.71px;font-size:14px;color:#999;font-weight:normal;direction:rtl;transform:translate(-50%,-50%) scaleX(0.9697);transform-origin:center center;">۴ روز</div><div id="t31" class="t" style="left:862.78px;top:787.71px;font-size:14px;color:#999;font-weight:normal;direction:rtl;transform:translate(-50%,-50%) scaleX(0.8367);transform-origin:center center;">۱۱۳ روز</div><div id="t32" class="t" style="right:202.00px;top:845.21px;font-size:17px;color:#2f7ed8;font-weight:normal;direction:rtl;transform:translateY(-50%) scaleX(1.0739);transform-origin:right center;">۳% سود انباشته، <bdi dir="ltr">۰%</bdi> اندوخته</div><div class="a" style="left:38.70px;top:863.71px;width:173.10px;height:29px;background:#74b474"></div><div id="t33" class="t" style="left:125.25px;top:878.21px;font-size:18px;color:#fff;font-weight:normal;direction:rtl;transform:translate(-50%,-50%) scaleX(1.0607);transform-origin:center center;">۵۵۶۳۸ میلیارد تومان</div><div class="a" style="left:272.70px;top:863.71px;width:169.00px;height:29px;background:#3ea7b8"></div><div id="t34" class="t" style="left:357.20px;top:878.21px;font-size:18px;color:#fff;font-weight:normal;direction:rtl;transform:translate(-50%,-50%) scaleX(1.0333);transform-origin:center center;">۵۳۹۵۰ میلیارد تومان</div><div id="t35" class="t" style="right:776.00px;top:877.71px;font-size:17px;color:#555;font-weight:normal;direction:rtl;transform:translateY(-50%) scaleX(1.0000);transform-origin:right center;">سرمایه:</div><svg class="a" style="left:0;top:720.71px" width="700" height="187"><line x1="211.80" y1="157.5" x2="272.70" y2="157.5" stroke="#aab4bc" stroke-width="1.2" stroke-dasharray="5,3"/><polygon points="234.25,157.5 250.25,151 250.25,164" fill="#6a8ca0"/></svg><div id="t36" class="t" style="left:242.25px;top:860.71px;font-size:16px;color:#3e5060;font-weight:normal;direction:rtl;transform:translate(-50%,-50%) scaleX(1.0000);transform-origin:center center;">۳%</div><div class="a" style="left:22px;top:924.57px;width:1237px;height:187.7px;background:#fff;box-shadow:0 0 0 1px rgba(0,0,0,0.09),0 0 16px rgba(40,20,40,0.26)"><svg class="a" style="left:0;top:0" width="1081" height="187"><defs><linearGradient id="cg3_0" x1="0" y1="0" x2="0" y2="1"><stop offset="0" stop-color="rgb(214,74,73)" stop-opacity="0.10"/><stop offset="0.85" stop-color="rgb(214,74,73)" stop-opacity="0"/></linearGradient><linearGradient id="cg3_1" x1="0" y1="0" x2="0" y2="1"><stop offset="0" stop-color="rgb(230,122,79)" stop-opacity="0.10"/><stop offset="0.85" stop-color="rgb(230,122,79)" stop-opacity="0"/></linearGradient><linearGradient id="cg3_2" x1="0" y1="0" x2="0" y2="1"><stop offset="0" stop-color="rgb(240,162,90)" stop-opacity="0.10"/><stop offset="0.85" stop-color="rgb(240,162,90)" stop-opacity="0"/></linearGradient><linearGradient id="cg3_3" x1="0" y1="0" x2="0" y2="1"><stop offset="0" stop-color="rgb(233,196,106)" stop-opacity="0.10"/><stop offset="0.85" stop-color="rgb(233,196,106)" stop-opacity="0"/></linearGradient><linearGradient id="cg3_4" x1="0" y1="0" x2="0" y2="1"><stop offset="0" stop-color="rgb(200,198,106)" stop-opacity="0.10"/><stop offset="0.85" stop-color="rgb(200,198,106)" stop-opacity="0"/></linearGradient><linearGradient id="cg3_5" x1="0" y1="0" x2="0" y2="1"><stop offset="0" stop-color="rgb(153,184,98)" stop-opacity="0.10"/><stop offset="0.85" stop-color="rgb(153,184,98)" stop-opacity="0"/></linearGradient><linearGradient id="cg3_6" x1="0" y1="0" x2="0" y2="1"><stop offset="0" stop-color="rgb(100,168,98)" stop-opacity="0.10"/><stop offset="0.85" stop-color="rgb(100,168,98)" stop-opacity="0"/></linearGradient><linearGradient id="cg3_7" x1="0" y1="0" x2="0" y2="1"><stop offset="0" stop-color="rgb(8,154,94)" stop-opacity="0.10"/><stop offset="0.85" stop-color="rgb(8,154,94)" stop-opacity="0"/></linearGradient><linearGradient id="cg3_8" x1="0" y1="0" x2="0" y2="1"><stop offset="0" stop-color="rgb(10,126,110)" stop-opacity="0.10"/><stop offset="0.85" stop-color="rgb(10,126,110)" stop-opacity="0"/></linearGradient></defs><rect x="0.00" y="0" width="120.11" height="187" fill="url(#cg3_0)"/><rect x="120.11" y="0" width="120.11" height="187" fill="url(#cg3_1)"/><rect x="240.22" y="0" width="120.11" height="187" fill="url(#cg3_2)"/><rect x="360.33" y="0" width="120.11" height="187" fill="url(#cg3_3)"/><rect x="480.44" y="0" width="120.11" height="187" fill="url(#cg3_4)"/><rect x="600.56" y="0" width="120.11" height="187" fill="url(#cg3_5)"/><rect x="720.67" y="0" width="120.11" height="187" fill="url(#cg3_6)"/><rect x="840.78" y="0" width="120.11" height="187" fill="url(#cg3_7)"/><rect x="960.89" y="0" width="120.11" height="187" fill="url(#cg3_8)"/><linearGradient id="lg3_1" x1="0" y1="0" x2="0" y2="1"><stop offset="0" stop-color="rgb(230,122,79)" stop-opacity="0.22"/><stop offset="1" stop-color="rgb(230,122,79)" stop-opacity="0.03"/></linearGradient><rect x="119.61" y="0" width="1" height="187" fill="url(#lg3_1)"/><linearGradient id="lg3_2" x1="0" y1="0" x2="0" y2="1"><stop offset="0" stop-color="rgb(240,162,90)" stop-opacity="0.22"/><stop offset="1" stop-color="rgb(240,162,90)" stop-opacity="0.03"/></linearGradient><rect x="239.72" y="0" width="1" height="187" fill="url(#lg3_2)"/><linearGradient id="lg3_3" x1="0" y1="0" x2="0" y2="1"><stop offset="0" stop-color="rgb(233,196,106)" stop-opacity="0.22"/><stop offset="1" stop-color="rgb(233,196,106)" stop-opacity="0.03"/></linearGradient><rect x="359.83" y="0" width="1" height="187" fill="url(#lg3_3)"/><linearGradient id="lg3_4" x1="0" y1="0" x2="0" y2="1"><stop offset="0" stop-color="rgb(200,198,106)" stop-opacity="0.22"/><stop offset="1" stop-color="rgb(200,198,106)" stop-opacity="0.03"/></linearGradient><rect x="479.94" y="0" width="1" height="187" fill="url(#lg3_4)"/><linearGradient id="lg3_5" x1="0" y1="0" x2="0" y2="1"><stop offset="0" stop-color="rgb(153,184,98)" stop-opacity="0.22"/><stop offset="1" stop-color="rgb(153,184,98)" stop-opacity="0.03"/></linearGradient><rect x="600.06" y="0" width="1" height="187" fill="url(#lg3_5)"/><linearGradient id="lg3_6" x1="0" y1="0" x2="0" y2="1"><stop offset="0" stop-color="rgb(100,168,98)" stop-opacity="0.22"/><stop offset="1" stop-color="rgb(100,168,98)" stop-opacity="0.03"/></linearGradient><rect x="720.17" y="0" width="1" height="187" fill="url(#lg3_6)"/><linearGradient id="lg3_7" x1="0" y1="0" x2="0" y2="1"><stop offset="0" stop-color="rgb(8,154,94)" stop-opacity="0.22"/><stop offset="1" stop-color="rgb(8,154,94)" stop-opacity="0.03"/></linearGradient><rect x="840.28" y="0" width="1" height="187" fill="url(#lg3_7)"/><linearGradient id="lg3_8" x1="0" y1="0" x2="0" y2="1"><stop offset="0" stop-color="rgb(10,126,110)" stop-opacity="0.22"/><stop offset="1" stop-color="rgb(10,126,110)" stop-opacity="0.03"/></linearGradient><rect x="960.39" y="0" width="1" height="187" fill="url(#lg3_8)"/><line x1="0" y1="80.2" x2="1081" y2="80.2" stroke="#e8e8e8" stroke-width="1"/></svg><div class="a" style="left:1081px;top:0;width:156px;height:187.7px;background:linear-gradient(225deg,#129a8b 0%,#2aa99a 50%,#4cb3a8 100%)"></div></div><div id="t37" class="t" style="left:1181.00px;top:963.57px;font-size:31px;color:#f7f7f7;font-weight:bold;direction:rtl;transform:translate(-50%,-50%) scaleX(1.0000);transform-origin:center center;-webkit-text-stroke:1.2px #f7f7f7;">خدیزل</div><div class="a" style="left:1126px;top:1001.07px;width:111px;height:3px;border-radius:2px;background:rgba(255,255,255,0.3)"></div><div class="a" style="left:1126px;top:1064.07px;width:111px;height:3px;border-radius:2px;background:rgba(255,255,255,0.3)"></div><div id="t38" class="t" style="left:1181.00px;top:1031.57px;font-size:38px;color:#f7f7f7;font-weight:normal;direction:rtl;transform:translate(-50%,-50%) scaleX(1.0000);transform-origin:center center;">۲۳%</div><div class="t" style="right:71.0px;top:1086.57px;transform:translateY(-50%);color:#f7f7f7;direction:ltr"><span style="display:inline-block;font-size:14.5px">ریال</span><span style="display:inline-block;font-size:22px">۱,۸۸۸</span></div><div class="a" style="left:19px;top:919.57px;width:144px;height:26px;background:#fc9a7e"></div><div id="t39" class="t" style="left:91.00px;top:932.57px;font-size:16px;color:#fff;font-weight:normal;direction:ltr;transform:translate(-50%,-50%) scaleX(0.8919);transform-origin:center center;">۱۴۰۴/۱۱/۰۵ ۱۷:۵۸:۱۸</div><svg class="a" style="left:0;top:924.57px" width="1103" height="187"><line x1="802.72" y1="80.2" x2="1042.94" y2="80.2" stroke="#26a69a" stroke-width="1.6"/><circle cx="82.06" cy="80.2" r="14" fill="#eeeeee" stroke="#dedede" stroke-width="5"/><circle cx="562.50" cy="80.2" r="14" fill="#eeeeee" stroke="#dedede" stroke-width="5"/><circle cx="682.61" cy="80.2" r="14" fill="#eeeeee" stroke="#dedede" stroke-width="5"/><circle cx="922.83" cy="80.2" r="14.5" fill="#26a69a" stroke="#e2e2e2" stroke-width="4"/><circle cx="1042.94" cy="80.2" r="14.5" fill="#26a69a" stroke="#e2e2e2" stroke-width="4"/><circle cx="802.72" cy="80.2" r="16" fill="#e0e0e0" stroke="#1b9bae" stroke-width="1.6"/><circle cx="802.72" cy="80.2" r="12.5" fill="#26a69a"/><line x1="748.00" y1="42" x2="769.30" y2="42" stroke="#a8a8a8" stroke-width="1.2" stroke-dasharray="4,3"/></svg><div class="a" style="left:1006.00px;top:953.57px;width:72.70px;height:26px;background:#6abf9a"></div><div id="t40" class="t" style="left:1042.35px;top:966.57px;font-size:15px;color:#fff;font-weight:normal;direction:ltr;transform:translate(-50%,-50%) scaleX(1.0482);transform-origin:center center;-webkit-text-stroke:0.3px #fff;">۰۴/۰۷/۰۶</div><div class="a" style="left:888.00px;top:953.57px;width:68.70px;height:26px;background:#6abf9a"></div><div id="t41" class="t" style="left:922.35px;top:966.57px;font-size:15px;color:#fff;font-weight:normal;direction:ltr;transform:translate(-50%,-50%) scaleX(0.9768);transform-origin:center center;-webkit-text-stroke:0.3px #fff;">۰۴/۰۹/۱۲</div><div class="a" style="left:769.30px;top:953.57px;width:66.70px;height:26px;background:#6abf9a"></div><div id="t42" class="t" style="left:802.65px;top:966.57px;font-size:15px;color:#fff;font-weight:normal;direction:ltr;transform:translate(-50%,-50%) scaleX(0.9411);transform-origin:center center;-webkit-text-stroke:0.3px #fff;">۰۴/۱۱/۰۵</div><div class="a" style="left:673.75px;top:953.07px;width:74.25px;height:27px;background:#c0498d"></div><div id="t43" class="t" style="left:710.88px;top:966.57px;font-size:14.5px;color:#fff;font-weight:normal;direction:rtl;transform:translate(-50%,-50%) scaleX(0.8860);transform-origin:center center;">۱۰ روز قبل</div><div id="t44" class="t" style="left:982.89px;top:991.57px;font-size:14px;color:#999;font-weight:normal;direction:rtl;transform:translate(-50%,-50%) scaleX(0.9024);transform-origin:center center;">۶۶ روز</div><div id="t45" class="t" style="left:862.78px;top:991.57px;font-size:14px;color:#999;font-weight:normal;direction:rtl;transform:translate(-50%,-50%) scaleX(0.9024);transform-origin:center center;">۵۳ روز</div><div id="t46" class="t" style="right:202.00px;top:1049.07px;font-size:17px;color:#2f7ed8;font-weight:normal;direction:rtl;transform:translateY(-50%) scaleX(1.0656);transform-origin:right center;">۲۳% سود انباشته</div><div class="a" style="left:38.70px;top:1067.57px;width:153.10px;height:29px;background:#74b474"></div><div id="t47" class="t" style="left:115.25px;top:1082.07px;font-size:18px;color:#fff;font-weight:normal;direction:rtl;transform:translate(-50%,-50%) scaleX(0.9936);transform-origin:center center;">۷۲۰۰ میلیارد تومان</div><div class="a" style="left:276.00px;top:1067.57px;width:161.60px;height:29px;background:#3ea7b8"></div><div id="t48" class="t" style="left:356.80px;top:1082.07px;font-size:18px;color:#fff;font-weight:normal;direction:rtl;transform:translate(-50%,-50%) scaleX(1.0543);transform-origin:center center;">۵۸۷۳ میلیارد تومان</div><div id="t49" class="t" style="right:779.40px;top:1081.57px;font-size:17px;color:#555;font-weight:normal;direction:rtl;transform:translateY(-50%) scaleX(1.0000);transform-origin:right center;">سرمایه:</div><svg class="a" style="left:0;top:924.57px" width="700" height="187"><line x1="191.80" y1="157.5" x2="276.00" y2="157.5" stroke="#aab4bc" stroke-width="1.2" stroke-dasharray="5,3"/><polygon points="225.90,157.5 241.90,151 241.90,164" fill="#6a8ca0"/></svg><div id="t50" class="t" style="left:233.90px;top:1064.57px;font-size:16px;color:#3e5060;font-weight:normal;direction:rtl;transform:translate(-50%,-50%) scaleX(1.0000);transform-origin:center center;">۲۳%</div><div class="a" style="left:22px;top:1128.43px;width:1237px;height:187.7px;background:#fff;box-shadow:0 0 0 1px rgba(0,0,0,0.09),0 0 16px rgba(40,20,40,0.26)"><svg class="a" style="left:0;top:0" width="1081" height="187"><defs><linearGradient id="cg4_0" x1="0" y1="0" x2="0" y2="1"><stop offset="0" stop-color="rgb(214,74,73)" stop-opacity="0.10"/><stop offset="0.85" stop-color="rgb(214,74,73)" stop-opacity="0"/></linearGradient><linearGradient id="cg4_1" x1="0" y1="0" x2="0" y2="1"><stop offset="0" stop-color="rgb(230,122,79)" stop-opacity="0.10"/><stop offset="0.85" stop-color="rgb(230,122,79)" stop-opacity="0"/></linearGradient><linearGradient id="cg4_2" x1="0" y1="0" x2="0" y2="1"><stop offset="0" stop-color="rgb(240,162,90)" stop-opacity="0.10"/><stop offset="0.85" stop-color="rgb(240,162,90)" stop-opacity="0"/></linearGradient><linearGradient id="cg4_3" x1="0" y1="0" x2="0" y2="1"><stop offset="0" stop-color="rgb(233,196,106)" stop-opacity="0.10"/><stop offset="0.85" stop-color="rgb(233,196,106)" stop-opacity="0"/></linearGradient><linearGradient id="cg4_4" x1="0" y1="0" x2="0" y2="1"><stop offset="0" stop-color="rgb(200,198,106)" stop-opacity="0.10"/><stop offset="0.85" stop-color="rgb(200,198,106)" stop-opacity="0"/></linearGradient><linearGradient id="cg4_5" x1="0" y1="0" x2="0" y2="1"><stop offset="0" stop-color="rgb(153,184,98)" stop-opacity="0.10"/><stop offset="0.85" stop-color="rgb(153,184,98)" stop-opacity="0"/></linearGradient><linearGradient id="cg4_6" x1="0" y1="0" x2="0" y2="1"><stop offset="0" stop-color="rgb(100,168,98)" stop-opacity="0.10"/><stop offset="0.85" stop-color="rgb(100,168,98)" stop-opacity="0"/></linearGradient><linearGradient id="cg4_7" x1="0" y1="0" x2="0" y2="1"><stop offset="0" stop-color="rgb(8,154,94)" stop-opacity="0.10"/><stop offset="0.85" stop-color="rgb(8,154,94)" stop-opacity="0"/></linearGradient><linearGradient id="cg4_8" x1="0" y1="0" x2="0" y2="1"><stop offset="0" stop-color="rgb(10,126,110)" stop-opacity="0.10"/><stop offset="0.85" stop-color="rgb(10,126,110)" stop-opacity="0"/></linearGradient></defs><rect x="0.00" y="0" width="120.11" height="187" fill="url(#cg4_0)"/><rect x="120.11" y="0" width="120.11" height="187" fill="url(#cg4_1)"/><rect x="240.22" y="0" width="120.11" height="187" fill="url(#cg4_2)"/><rect x="360.33" y="0" width="120.11" height="187" fill="url(#cg4_3)"/><rect x="480.44" y="0" width="120.11" height="187" fill="url(#cg4_4)"/><rect x="600.56" y="0" width="120.11" height="187" fill="url(#cg4_5)"/><rect x="720.67" y="0" width="120.11" height="187" fill="url(#cg4_6)"/><rect x="840.78" y="0" width="120.11" height="187" fill="url(#cg4_7)"/><rect x="960.89" y="0" width="120.11" height="187" fill="url(#cg4_8)"/><linearGradient id="lg4_1" x1="0" y1="0" x2="0" y2="1"><stop offset="0" stop-color="rgb(230,122,79)" stop-opacity="0.22"/><stop offset="1" stop-color="rgb(230,122,79)" stop-opacity="0.03"/></linearGradient><rect x="119.61" y="0" width="1" height="187" fill="url(#lg4_1)"/><linearGradient id="lg4_2" x1="0" y1="0" x2="0" y2="1"><stop offset="0" stop-color="rgb(240,162,90)" stop-opacity="0.22"/><stop offset="1" stop-color="rgb(240,162,90)" stop-opacity="0.03"/></linearGradient><rect x="239.72" y="0" width="1" height="187" fill="url(#lg4_2)"/><linearGradient id="lg4_3" x1="0" y1="0" x2="0" y2="1"><stop offset="0" stop-color="rgb(233,196,106)" stop-opacity="0.22"/><stop offset="1" stop-color="rgb(233,196,106)" stop-opacity="0.03"/></linearGradient><rect x="359.83" y="0" width="1" height="187" fill="url(#lg4_3)"/><linearGradient id="lg4_4" x1="0" y1="0" x2="0" y2="1"><stop offset="0" stop-color="rgb(200,198,106)" stop-opacity="0.22"/><stop offset="1" stop-color="rgb(200,198,106)" stop-opacity="0.03"/></linearGradient><rect x="479.94" y="0" width="1" height="187" fill="url(#lg4_4)"/><linearGradient id="lg4_5" x1="0" y1="0" x2="0" y2="1"><stop offset="0" stop-color="rgb(153,184,98)" stop-opacity="0.22"/><stop offset="1" stop-color="rgb(153,184,98)" stop-opacity="0.03"/></linearGradient><rect x="600.06" y="0" width="1" height="187" fill="url(#lg4_5)"/><linearGradient id="lg4_6" x1="0" y1="0" x2="0" y2="1"><stop offset="0" stop-color="rgb(100,168,98)" stop-opacity="0.22"/><stop offset="1" stop-color="rgb(100,168,98)" stop-opacity="0.03"/></linearGradient><rect x="720.17" y="0" width="1" height="187" fill="url(#lg4_6)"/><linearGradient id="lg4_7" x1="0" y1="0" x2="0" y2="1"><stop offset="0" stop-color="rgb(8,154,94)" stop-opacity="0.22"/><stop offset="1" stop-color="rgb(8,154,94)" stop-opacity="0.03"/></linearGradient><rect x="840.28" y="0" width="1" height="187" fill="url(#lg4_7)"/><linearGradient id="lg4_8" x1="0" y1="0" x2="0" y2="1"><stop offset="0" stop-color="rgb(10,126,110)" stop-opacity="0.22"/><stop offset="1" stop-color="rgb(10,126,110)" stop-opacity="0.03"/></linearGradient><rect x="960.39" y="0" width="1" height="187" fill="url(#lg4_8)"/><line x1="0" y1="80.2" x2="1081" y2="80.2" stroke="#e8e8e8" stroke-width="1"/></svg><div class="a" style="left:1081px;top:0;width:156px;height:187.7px;background:linear-gradient(225deg,#129a8b 0%,#2aa99a 50%,#4cb3a8 100%)"></div></div><div id="t51" class="t" style="left:1181.00px;top:1167.43px;font-size:31px;color:#f7f7f7;font-weight:bold;direction:rtl;transform:translate(-50%,-50%) scaleX(1.0000);transform-origin:center center;-webkit-text-stroke:1.2px #f7f7f7;">اعتلا</div><div class="a" style="left:1126px;top:1204.93px;width:111px;height:3px;border-radius:2px;background:rgba(255,255,255,0.3)"></div><div class="a" style="left:1126px;top:1267.93px;width:111px;height:3px;border-radius:2px;background:rgba(255,255,255,0.3)"></div><div id="t52" class="t" style="left:1181.00px;top:1235.43px;font-size:38px;color:#f7f7f7;font-weight:normal;direction:rtl;transform:translate(-50%,-50%) scaleX(1.0000);transform-origin:center center;">۳۱%</div><div class="t" style="right:71.0px;top:1290.43px;transform:translateY(-50%);color:#f7f7f7;direction:ltr"><span style="display:inline-block;font-size:14.5px">ریال</span><span style="display:inline-block;font-size:22px">۱,۶۸۸</span></div><div class="a" style="left:19px;top:1123.43px;width:145px;height:26px;background:#fc9a7e"></div><div id="t53" class="t" style="left:91.50px;top:1136.43px;font-size:16px;color:#fff;font-weight:normal;direction:ltr;transform:translate(-50%,-50%) scaleX(0.8986);transform-origin:center center;">۱۴۰۴/۱۱/۰۵ ۱۷:۵۷:۵۹</div><svg class="a" style="left:0;top:1128.43px" width="1103" height="187"><line x1="802.72" y1="80.2" x2="1042.94" y2="80.2" stroke="#26a69a" stroke-width="1.6"/><circle cx="82.06" cy="80.2" r="14" fill="#eeeeee" stroke="#dedede" stroke-width="5"/><circle cx="202.17" cy="80.2" r="14" fill="#eeeeee" stroke="#dedede" stroke-width="5"/><circle cx="322.28" cy="80.2" r="14" fill="#eeeeee" stroke="#dedede" stroke-width="5"/><circle cx="442.39" cy="80.2" r="14" fill="#eeeeee" stroke="#dedede" stroke-width="5"/><circle cx="562.50" cy="80.2" r="14" fill="#eeeeee" stroke="#dedede" stroke-width="5"/><circle cx="682.61" cy="80.2" r="14" fill="#eeeeee" stroke="#dedede" stroke-width="5"/><circle cx="922.83" cy="80.2" r="14.5" fill="#26a69a" stroke="#e2e2e2" stroke-width="4"/><circle cx="1042.94" cy="80.2" r="14.5" fill="#26a69a" stroke="#e2e2e2" stroke-width="4"/><circle cx="802.72" cy="80.2" r="16" fill="#e0e0e0" stroke="#1b9bae" stroke-width="1.6"/><circle cx="802.72" cy="80.2" r="12.5" fill="#26a69a"/><line x1="748.00" y1="42" x2="769.00" y2="42" stroke="#a8a8a8" stroke-width="1.2" stroke-dasharray="4,3"/></svg><div class="a" style="left:1006.00px;top:1157.43px;width:74.00px;height:26px;background:#6abf9a"></div><div id="t54" class="t" style="left:1043.00px;top:1170.43px;font-size:15px;color:#fff;font-weight:normal;direction:ltr;transform:translate(-50%,-50%) scaleX(1.0714);transform-origin:center center;-webkit-text-stroke:0.3px #fff;">۰۴/۰۴/۰۳</div><div class="a" style="left:885.00px;top:1157.43px;width:75.00px;height:26px;background:#6abf9a"></div><div id="t55" class="t" style="left:922.50px;top:1170.43px;font-size:15px;color:#fff;font-weight:normal;direction:ltr;transform:translate(-50%,-50%) scaleX(1.0893);transform-origin:center center;-webkit-text-stroke:0.3px #fff;">۰۴/۰۸/۲۵</div><div class="a" style="left:769.00px;top:1157.43px;width:66.00px;height:26px;background:#6abf9a"></div><div id="t56" class="t" style="left:802.00px;top:1170.43px;font-size:15px;color:#fff;font-weight:normal;direction:ltr;transform:translate(-50%,-50%) scaleX(0.9286);transform-origin:center center;-webkit-text-stroke:0.3px #fff;">۰۴/۱۱/۰۵</div><div class="a" style="left:674.00px;top:1156.93px;width:74.00px;height:27px;background:#c0498d"></div><div id="t57" class="t" style="left:711.00px;top:1170.43px;font-size:14.5px;color:#fff;font-weight:normal;direction:rtl;transform:translate(-50%,-50%) scaleX(0.8824);transform-origin:center center;">۱۰ روز قبل</div><div id="t58" class="t" style="left:982.89px;top:1195.43px;font-size:14px;color:#999;font-weight:normal;direction:rtl;transform:translate(-50%,-50%) scaleX(0.9184);transform-origin:center center;">۱۴۵ روز</div><div id="t59" class="t" style="left:862.78px;top:1195.43px;font-size:14px;color:#999;font-weight:normal;direction:rtl;transform:translate(-50%,-50%) scaleX(0.9024);transform-origin:center center;">۷۰ روز</div><div id="t60" class="t" style="right:202.00px;top:1252.93px;font-size:17px;color:#2f7ed8;font-weight:normal;direction:rtl;transform:translateY(-50%) scaleX(1.0256);transform-origin:right center;">۳۱% آورده نقدی</div><div id="t61" class="t" style="right:202.00px;top:1284.43px;font-size:17px;color:#6a6a6a;font-weight:normal;direction:rtl;transform:translateY(-50%) scaleX(1.0514);transform-origin:right center;">مجموع مراحل افزایش سرمایه:<bdi dir="ltr">۵۵%</bdi></div><div class="a" style="left:22px;top:1332.28px;width:1237px;height:187.7px;background:#fff;box-shadow:0 0 0 1px rgba(0,0,0,0.09),0 0 16px rgba(40,20,40,0.26)"><svg class="a" style="left:0;top:0" width="1081" height="187"><defs><linearGradient id="cg5_0" x1="0" y1="0" x2="0" y2="1"><stop offset="0" stop-color="rgb(214,74,73)" stop-opacity="0.10"/><stop offset="0.85" stop-color="rgb(214,74,73)" stop-opacity="0"/></linearGradient><linearGradient id="cg5_1" x1="0" y1="0" x2="0" y2="1"><stop offset="0" stop-color="rgb(230,122,79)" stop-opacity="0.10"/><stop offset="0.85" stop-color="rgb(230,122,79)" stop-opacity="0"/></linearGradient><linearGradient id="cg5_2" x1="0" y1="0" x2="0" y2="1"><stop offset="0" stop-color="rgb(240,162,90)" stop-opacity="0.10"/><stop offset="0.85" stop-color="rgb(240,162,90)" stop-opacity="0"/></linearGradient><linearGradient id="cg5_3" x1="0" y1="0" x2="0" y2="1"><stop offset="0" stop-color="rgb(233,196,106)" stop-opacity="0.10"/><stop offset="0.85" stop-color="rgb(233,196,106)" stop-opacity="0"/></linearGradient><linearGradient id="cg5_4" x1="0" y1="0" x2="0" y2="1"><stop offset="0" stop-color="rgb(200,198,106)" stop-opacity="0.10"/><stop offset="0.85" stop-color="rgb(200,198,106)" stop-opacity="0"/></linearGradient><linearGradient id="cg5_5" x1="0" y1="0" x2="0" y2="1"><stop offset="0" stop-color="rgb(153,184,98)" stop-opacity="0.10"/><stop offset="0.85" stop-color="rgb(153,184,98)" stop-opacity="0"/></linearGradient><linearGradient id="cg5_6" x1="0" y1="0" x2="0" y2="1"><stop offset="0" stop-color="rgb(100,168,98)" stop-opacity="0.10"/><stop offset="0.85" stop-color="rgb(100,168,98)" stop-opacity="0"/></linearGradient><linearGradient id="cg5_7" x1="0" y1="0" x2="0" y2="1"><stop offset="0" stop-color="rgb(8,154,94)" stop-opacity="0.10"/><stop offset="0.85" stop-color="rgb(8,154,94)" stop-opacity="0"/></linearGradient><linearGradient id="cg5_8" x1="0" y1="0" x2="0" y2="1"><stop offset="0" stop-color="rgb(10,126,110)" stop-opacity="0.10"/><stop offset="0.85" stop-color="rgb(10,126,110)" stop-opacity="0"/></linearGradient></defs><rect x="0.00" y="0" width="120.11" height="187" fill="url(#cg5_0)"/><rect x="120.11" y="0" width="120.11" height="187" fill="url(#cg5_1)"/><rect x="240.22" y="0" width="120.11" height="187" fill="url(#cg5_2)"/><rect x="360.33" y="0" width="120.11" height="187" fill="url(#cg5_3)"/><rect x="480.44" y="0" width="120.11" height="187" fill="url(#cg5_4)"/><rect x="600.56" y="0" width="120.11" height="187" fill="url(#cg5_5)"/><rect x="720.67" y="0" width="120.11" height="187" fill="url(#cg5_6)"/><rect x="840.78" y="0" width="120.11" height="187" fill="url(#cg5_7)"/><rect x="960.89" y="0" width="120.11" height="187" fill="url(#cg5_8)"/><linearGradient id="lg5_1" x1="0" y1="0" x2="0" y2="1"><stop offset="0" stop-color="rgb(230,122,79)" stop-opacity="0.22"/><stop offset="1" stop-color="rgb(230,122,79)" stop-opacity="0.03"/></linearGradient><rect x="119.61" y="0" width="1" height="187" fill="url(#lg5_1)"/><linearGradient id="lg5_2" x1="0" y1="0" x2="0" y2="1"><stop offset="0" stop-color="rgb(240,162,90)" stop-opacity="0.22"/><stop offset="1" stop-color="rgb(240,162,90)" stop-opacity="0.03"/></linearGradient><rect x="239.72" y="0" width="1" height="187" fill="url(#lg5_2)"/><linearGradient id="lg5_3" x1="0" y1="0" x2="0" y2="1"><stop offset="0" stop-color="rgb(233,196,106)" stop-opacity="0.22"/><stop offset="1" stop-color="rgb(233,196,106)" stop-opacity="0.03"/></linearGradient><rect x="359.83" y="0" width="1" height="187" fill="url(#lg5_3)"/><linearGradient id="lg5_4" x1="0" y1="0" x2="0" y2="1"><stop offset="0" stop-color="rgb(200,198,106)" stop-opacity="0.22"/><stop offset="1" stop-color="rgb(200,198,106)" stop-opacity="0.03"/></linearGradient><rect x="479.94" y="0" width="1" height="187" fill="url(#lg5_4)"/><linearGradient id="lg5_5" x1="0" y1="0" x2="0" y2="1"><stop offset="0" stop-color="rgb(153,184,98)" stop-opacity="0.22"/><stop offset="1" stop-color="rgb(153,184,98)" stop-opacity="0.03"/></linearGradient><rect x="600.06" y="0" width="1" height="187" fill="url(#lg5_5)"/><linearGradient id="lg5_6" x1="0" y1="0" x2="0" y2="1"><stop offset="0" stop-color="rgb(100,168,98)" stop-opacity="0.22"/><stop offset="1" stop-color="rgb(100,168,98)" stop-opacity="0.03"/></linearGradient><rect x="720.17" y="0" width="1" height="187" fill="url(#lg5_6)"/><linearGradient id="lg5_7" x1="0" y1="0" x2="0" y2="1"><stop offset="0" stop-color="rgb(8,154,94)" stop-opacity="0.22"/><stop offset="1" stop-color="rgb(8,154,94)" stop-opacity="0.03"/></linearGradient><rect x="840.28" y="0" width="1" height="187" fill="url(#lg5_7)"/><linearGradient id="lg5_8" x1="0" y1="0" x2="0" y2="1"><stop offset="0" stop-color="rgb(10,126,110)" stop-opacity="0.22"/><stop offset="1" stop-color="rgb(10,126,110)" stop-opacity="0.03"/></linearGradient><rect x="960.39" y="0" width="1" height="187" fill="url(#lg5_8)"/><line x1="0" y1="80.2" x2="1081" y2="80.2" stroke="#e8e8e8" stroke-width="1"/></svg><div class="a" style="left:1081px;top:0;width:156px;height:187.7px;background:linear-gradient(225deg,#129a8b 0%,#2aa99a 50%,#4cb3a8 100%)"></div></div><div id="t62" class="t" style="left:1181.00px;top:1371.28px;font-size:31px;color:#f7f7f7;font-weight:bold;direction:rtl;transform:translate(-50%,-50%) scaleX(1.0000);transform-origin:center center;-webkit-text-stroke:1.2px #f7f7f7;">خشرق</div><div class="a" style="left:1126px;top:1408.78px;width:111px;height:3px;border-radius:2px;background:rgba(255,255,255,0.3)"></div><div class="a" style="left:1126px;top:1471.78px;width:111px;height:3px;border-radius:2px;background:rgba(255,255,255,0.3)"></div><div id="t63" class="t" style="left:1181.00px;top:1439.28px;font-size:38px;color:#f7f7f7;font-weight:normal;direction:rtl;transform:translate(-50%,-50%) scaleX(1.0000);transform-origin:center center;">۳۴%</div><div class="t" style="right:71.0px;top:1494.28px;transform:translateY(-50%);color:#f7f7f7;direction:ltr"><span style="display:inline-block;font-size:14.5px">ریال</span><span style="display:inline-block;font-size:22px">۲,۵۱۶</span></div><div class="a" style="left:19px;top:1327.28px;width:146px;height:26px;background:#fc9a7e"></div><div id="t64" class="t" style="left:92.00px;top:1340.28px;font-size:16px;color:#fff;font-weight:normal;direction:ltr;transform:translate(-50%,-50%) scaleX(0.9054);transform-origin:center center;">۱۴۰۴/۱۱/۰۵ ۱۶:۴۳:۴۵</div><svg class="a" style="left:0;top:1332.28px" width="1103" height="187"><line x1="922.83" y1="80.2" x2="1042.94" y2="80.2" stroke="#26a69a" stroke-width="1.6"/><circle cx="82.06" cy="80.2" r="14" fill="#eeeeee" stroke="#dedede" stroke-width="5"/><circle cx="562.50" cy="80.2" r="14" fill="#eeeeee" stroke="#dedede" stroke-width="5"/><circle cx="682.61" cy="80.2" r="14" fill="#eeeeee" stroke="#dedede" stroke-width="5"/><circle cx="802.72" cy="80.2" r="14" fill="#eeeeee" stroke="#dedede" stroke-width="5"/><circle cx="1042.94" cy="80.2" r="14.5" fill="#26a69a" stroke="#e2e2e2" stroke-width="4"/><circle cx="922.83" cy="80.2" r="16" fill="#e0e0e0" stroke="#1b9bae" stroke-width="1.6"/><circle cx="922.83" cy="80.2" r="12.5" fill="#26a69a"/><line x1="867.80" y1="42" x2="889.00" y2="42" stroke="#a8a8a8" stroke-width="1.2" stroke-dasharray="4,3"/></svg><div class="a" style="left:1008.00px;top:1361.28px;width:70.00px;height:26px;background:#6abf9a"></div><div id="t65" class="t" style="left:1043.00px;top:1374.28px;font-size:15px;color:#fff;font-weight:normal;direction:ltr;transform:translate(-50%,-50%) scaleX(1.0000);transform-origin:center center;-webkit-text-stroke:0.3px #fff;">۰۴/۱۰/۳۰</div><div class="a" style="left:889.00px;top:1361.28px;width:67.00px;height:26px;background:#6abf9a"></div><div id="t66" class="t" style="left:922.50px;top:1374.28px;font-size:15px;color:#fff;font-weight:normal;direction:ltr;transform:translate(-50%,-50%) scaleX(0.9464);transform-origin:center center;-webkit-text-stroke:0.3px #fff;">۰۴/۱۱/۰۵</div><div class="a" style="left:795.00px;top:1360.78px;width:72.80px;height:27px;background:#c0498d"></div><div id="t67" class="t" style="left:831.40px;top:1374.28px;font-size:14.5px;color:#fff;font-weight:normal;direction:rtl;transform:translate(-50%,-50%) scaleX(0.8647);transform-origin:center center;">۱۰ روز قبل</div><div id="t68" class="t" style="left:982.89px;top:1399.28px;font-size:14px;color:#999;font-weight:normal;direction:rtl;transform:translate(-50%,-50%) scaleX(0.9697);transform-origin:center center;">۴ روز</div><div id="t69" class="t" style="right:202.00px;top:1456.78px;font-size:17px;color:#d9532b;font-weight:normal;direction:rtl;transform:translateY(-50%) scaleX(1.0476);transform-origin:right center;">سود انباشته</div><div class="a" style="left:39.00px;top:1475.28px;width:144.00px;height:29px;background:#74b474"></div><div id="t70" class="t" style="left:111.00px;top:1489.78px;font-size:18px;color:#fff;font-weight:normal;direction:rtl;transform:translate(-50%,-50%) scaleX(1.0000);transform-origin:center center;">۵۴۱ میلیارد تومان</div><div class="a" style="left:284.00px;top:1475.28px;width:147.00px;height:29px;background:#3ea7b8"></div><div id="t71" class="t" style="left:357.50px;top:1489.78px;font-size:18px;color:#fff;font-weight:normal;direction:rtl;transform:translate(-50%,-50%) scaleX(1.0231);transform-origin:center center;">۴۰۳ میلیارد تومان</div><div id="t72" class="t" style="right:787.00px;top:1489.28px;font-size:17px;color:#555;font-weight:normal;direction:rtl;transform:translateY(-50%) scaleX(1.0000);transform-origin:right center;">سرمایه:</div><svg class="a" style="left:0;top:1332.28px" width="700" height="187"><line x1="183.00" y1="157.5" x2="284.00" y2="157.5" stroke="#aab4bc" stroke-width="1.2" stroke-dasharray="5,3"/><polygon points="225.50,157.5 241.50,151 241.50,164" fill="#6a8ca0"/></svg><div id="t73" class="t" style="left:233.50px;top:1472.28px;font-size:16px;color:#3e5060;font-weight:normal;direction:rtl;transform:translate(-50%,-50%) scaleX(1.0000);transform-origin:center center;">۳۴%</div><div class="a" style="left:22px;top:1536.14px;width:1237px;height:187.7px;background:#fff;box-shadow:0 0 0 1px rgba(0,0,0,0.09),0 0 16px rgba(40,20,40,0.26)"><svg class="a" style="left:0;top:0" width="1081" height="187"><defs><linearGradient id="cg6_0" x1="0" y1="0" x2="0" y2="1"><stop offset="0" stop-color="rgb(214,74,73)" stop-opacity="0.10"/><stop offset="0.85" stop-color="rgb(214,74,73)" stop-opacity="0"/></linearGradient><linearGradient id="cg6_1" x1="0" y1="0" x2="0" y2="1"><stop offset="0" stop-color="rgb(230,122,79)" stop-opacity="0.10"/><stop offset="0.85" stop-color="rgb(230,122,79)" stop-opacity="0"/></linearGradient><linearGradient id="cg6_2" x1="0" y1="0" x2="0" y2="1"><stop offset="0" stop-color="rgb(240,162,90)" stop-opacity="0.10"/><stop offset="0.85" stop-color="rgb(240,162,90)" stop-opacity="0"/></linearGradient><linearGradient id="cg6_3" x1="0" y1="0" x2="0" y2="1"><stop offset="0" stop-color="rgb(233,196,106)" stop-opacity="0.10"/><stop offset="0.85" stop-color="rgb(233,196,106)" stop-opacity="0"/></linearGradient><linearGradient id="cg6_4" x1="0" y1="0" x2="0" y2="1"><stop offset="0" stop-color="rgb(200,198,106)" stop-opacity="0.10"/><stop offset="0.85" stop-color="rgb(200,198,106)" stop-opacity="0"/></linearGradient><linearGradient id="cg6_5" x1="0" y1="0" x2="0" y2="1"><stop offset="0" stop-color="rgb(153,184,98)" stop-opacity="0.10"/><stop offset="0.85" stop-color="rgb(153,184,98)" stop-opacity="0"/></linearGradient><linearGradient id="cg6_6" x1="0" y1="0" x2="0" y2="1"><stop offset="0" stop-color="rgb(100,168,98)" stop-opacity="0.10"/><stop offset="0.85" stop-color="rgb(100,168,98)" stop-opacity="0"/></linearGradient><linearGradient id="cg6_7" x1="0" y1="0" x2="0" y2="1"><stop offset="0" stop-color="rgb(8,154,94)" stop-opacity="0.10"/><stop offset="0.85" stop-color="rgb(8,154,94)" stop-opacity="0"/></linearGradient><linearGradient id="cg6_8" x1="0" y1="0" x2="0" y2="1"><stop offset="0" stop-color="rgb(10,126,110)" stop-opacity="0.10"/><stop offset="0.85" stop-color="rgb(10,126,110)" stop-opacity="0"/></linearGradient></defs><rect x="0.00" y="0" width="120.11" height="187" fill="url(#cg6_0)"/><rect x="120.11" y="0" width="120.11" height="187" fill="url(#cg6_1)"/><rect x="240.22" y="0" width="120.11" height="187" fill="url(#cg6_2)"/><rect x="360.33" y="0" width="120.11" height="187" fill="url(#cg6_3)"/><rect x="480.44" y="0" width="120.11" height="187" fill="url(#cg6_4)"/><rect x="600.56" y="0" width="120.11" height="187" fill="url(#cg6_5)"/><rect x="720.67" y="0" width="120.11" height="187" fill="url(#cg6_6)"/><rect x="840.78" y="0" width="120.11" height="187" fill="url(#cg6_7)"/><rect x="960.89" y="0" width="120.11" height="187" fill="url(#cg6_8)"/><linearGradient id="lg6_1" x1="0" y1="0" x2="0" y2="1"><stop offset="0" stop-color="rgb(230,122,79)" stop-opacity="0.22"/><stop offset="1" stop-color="rgb(230,122,79)" stop-opacity="0.03"/></linearGradient><rect x="119.61" y="0" width="1" height="187" fill="url(#lg6_1)"/><linearGradient id="lg6_2" x1="0" y1="0" x2="0" y2="1"><stop offset="0" stop-color="rgb(240,162,90)" stop-opacity="0.22"/><stop offset="1" stop-color="rgb(240,162,90)" stop-opacity="0.03"/></linearGradient><rect x="239.72" y="0" width="1" height="187" fill="url(#lg6_2)"/><linearGradient id="lg6_3" x1="0" y1="0" x2="0" y2="1"><stop offset="0" stop-color="rgb(233,196,106)" stop-opacity="0.22"/><stop offset="1" stop-color="rgb(233,196,106)" stop-opacity="0.03"/></linearGradient><rect x="359.83" y="0" width="1" height="187" fill="url(#lg6_3)"/><linearGradient id="lg6_4" x1="0" y1="0" x2="0" y2="1"><stop offset="0" stop-color="rgb(200,198,106)" stop-opacity="0.22"/><stop offset="1" stop-color="rgb(200,198,106)" stop-opacity="0.03"/></linearGradient><rect x="479.94" y="0" width="1" height="187" fill="url(#lg6_4)"/><linearGradient id="lg6_5" x1="0" y1="0" x2="0" y2="1"><stop offset="0" stop-color="rgb(153,184,98)" stop-opacity="0.22"/><stop offset="1" stop-color="rgb(153,184,98)" stop-opacity="0.03"/></linearGradient><rect x="600.06" y="0" width="1" height="187" fill="url(#lg6_5)"/><linearGradient id="lg6_6" x1="0" y1="0" x2="0" y2="1"><stop offset="0" stop-color="rgb(100,168,98)" stop-opacity="0.22"/><stop offset="1" stop-color="rgb(100,168,98)" stop-opacity="0.03"/></linearGradient><rect x="720.17" y="0" width="1" height="187" fill="url(#lg6_6)"/><linearGradient id="lg6_7" x1="0" y1="0" x2="0" y2="1"><stop offset="0" stop-color="rgb(8,154,94)" stop-opacity="0.22"/><stop offset="1" stop-color="rgb(8,154,94)" stop-opacity="0.03"/></linearGradient><rect x="840.28" y="0" width="1" height="187" fill="url(#lg6_7)"/><linearGradient id="lg6_8" x1="0" y1="0" x2="0" y2="1"><stop offset="0" stop-color="rgb(10,126,110)" stop-opacity="0.22"/><stop offset="1" stop-color="rgb(10,126,110)" stop-opacity="0.03"/></linearGradient><rect x="960.39" y="0" width="1" height="187" fill="url(#lg6_8)"/><line x1="0" y1="80.2" x2="1081" y2="80.2" stroke="#e8e8e8" stroke-width="1"/></svg><div class="a" style="left:1081px;top:0;width:156px;height:187.7px;background:linear-gradient(225deg,#129a8b 0%,#2aa99a 50%,#4cb3a8 100%)"></div></div><div id="t74" class="t" style="left:1181.00px;top:1575.14px;font-size:31px;color:#f7f7f7;font-weight:bold;direction:rtl;transform:translate(-50%,-50%) scaleX(1.0000);transform-origin:center center;-webkit-text-stroke:1.2px #f7f7f7;">فروی</div><div class="a" style="left:1126px;top:1612.64px;width:111px;height:3px;border-radius:2px;background:rgba(255,255,255,0.3)"></div><div class="a" style="left:1126px;top:1675.64px;width:111px;height:3px;border-radius:2px;background:rgba(255,255,255,0.3)"></div><div id="t75" class="t" style="left:1181.00px;top:1643.14px;font-size:38px;color:#f7f7f7;font-weight:normal;direction:rtl;transform:translate(-50%,-50%) scaleX(1.0000);transform-origin:center center;">۱۰۰%</div><div class="t" style="right:71.0px;top:1698.14px;transform:translateY(-50%);color:#f7f7f7;direction:ltr"><span style="display:inline-block;font-size:14.5px">ریال</span><span style="display:inline-block;font-size:22px">۲,۲۱۶</span></div><div class="a" style="left:19px;top:1531.14px;width:144px;height:26px;background:#fc9a7e"></div><div id="t76" class="t" style="left:91.00px;top:1544.14px;font-size:16px;color:#fff;font-weight:normal;direction:ltr;transform:translate(-50%,-50%) scaleX(0.8919);transform-origin:center center;">۱۴۰۴/۱۱/۰۵ ۱۶:۳۰:۳۴</div><svg class="a" style="left:0;top:1536.14px" width="1103" height="187"><line x1="922.83" y1="80.2" x2="1042.94" y2="80.2" stroke="#26a69a" stroke-width="1.6"/><circle cx="82.06" cy="80.2" r="14" fill="#eeeeee" stroke="#dedede" stroke-width="5"/><circle cx="202.17" cy="80.2" r="14" fill="#eeeeee" stroke="#dedede" stroke-width="5"/><circle cx="322.28" cy="80.2" r="14" fill="#eeeeee" stroke="#dedede" stroke-width="5"/><circle cx="442.39" cy="80.2" r="14" fill="#eeeeee" stroke="#dedede" stroke-width="5"/><circle cx="562.50" cy="80.2" r="14" fill="#eeeeee" stroke="#dedede" stroke-width="5"/><circle cx="682.61" cy="80.2" r="14" fill="#eeeeee" stroke="#dedede" stroke-width="5"/><circle cx="802.72" cy="80.2" r="14" fill="#eeeeee" stroke="#dedede" stroke-width="5"/><circle cx="1042.94" cy="80.2" r="14.5" fill="#26a69a" stroke="#e2e2e2" stroke-width="4"/><circle cx="922.83" cy="80.2" r="16" fill="#e0e0e0" stroke="#1b9bae" stroke-width="1.6"/><circle cx="922.83" cy="80.2" r="12.5" fill="#26a69a"/><line x1="867.80" y1="42" x2="889.00" y2="42" stroke="#a8a8a8" stroke-width="1.2" stroke-dasharray="4,3"/></svg><div class="a" style="left:1008.00px;top:1565.14px;width:70.00px;height:26px;background:#6abf9a"></div><div id="t77" class="t" style="left:1043.00px;top:1578.14px;font-size:15px;color:#fff;font-weight:normal;direction:ltr;transform:translate(-50%,-50%) scaleX(1.0000);transform-origin:center center;-webkit-text-stroke:0.3px #fff;">۰۴/۰۹/۱۸</div><div class="a" style="left:889.00px;top:1565.14px;width:67.00px;height:26px;background:#6abf9a"></div><div id="t78" class="t" style="left:922.50px;top:1578.14px;font-size:15px;color:#fff;font-weight:normal;direction:ltr;transform:translate(-50%,-50%) scaleX(0.9464);transform-origin:center center;-webkit-text-stroke:0.3px #fff;">۰۴/۱۱/۰۵</div><div class="a" style="left:795.00px;top:1564.64px;width:72.80px;height:27px;background:#c0498d"></div><div id="t79" class="t" style="left:831.40px;top:1578.14px;font-size:14.5px;color:#fff;font-weight:normal;direction:rtl;transform:translate(-50%,-50%) scaleX(0.8647);transform-origin:center center;">۱۰ روز قبل</div><div id="t80" class="t" style="left:982.89px;top:1603.14px;font-size:14px;color:#999;font-weight:normal;direction:rtl;transform:translate(-50%,-50%) scaleX(0.9024);transform-origin:center center;">۴۶ روز</div><div id="t81" class="t" style="right:202.00px;top:1660.64px;font-size:17px;color:#d9532b;font-weight:normal;direction:rtl;transform:translateY(-50%) scaleX(1.0526);transform-origin:right center;">مطالبات حال شده سهامداران و آورده نقدی</div><div class="a" style="left:39.00px;top:1679.14px;width:142.00px;height:29px;background:#74b474"></div><div id="t82" class="t" style="left:110.00px;top:1693.64px;font-size:18px;color:#fff;font-weight:normal;direction:rtl;transform:translate(-50%,-50%) scaleX(0.9846);transform-origin:center center;">۹۰۰ میلیارد تومان</div><div class="a" style="left:284.00px;top:1679.14px;width:147.00px;height:29px;background:#3ea7b8"></div><div id="t83" class="t" style="left:357.50px;top:1693.64px;font-size:18px;color:#fff;font-weight:normal;direction:rtl;transform:translate(-50%,-50%) scaleX(1.0231);transform-origin:center center;">۴۵۰ میلیارد تومان</div><div id="t84" class="t" style="right:787.00px;top:1693.14px;font-size:17px;color:#555;font-weight:normal;direction:rtl;transform:translateY(-50%) scaleX(1.0000);transform-origin:right center;">سرمایه:</div><svg class="a" style="left:0;top:1536.14px" width="700" height="187"><line x1="181.00" y1="157.5" x2="284.00" y2="157.5" stroke="#aab4bc" stroke-width="1.2" stroke-dasharray="5,3"/><polygon points="224.50,157.5 240.50,151 240.50,164" fill="#6a8ca0"/></svg><div id="t85" class="t" style="left:232.50px;top:1676.14px;font-size:16px;color:#3e5060;font-weight:normal;direction:rtl;transform:translate(-50%,-50%) scaleX(1.0000);transform-origin:center center;">۱۰۰%</div><div class="a" style="left:22px;top:1740.00px;width:1237px;height:187.7px;background:#fff;box-shadow:0 0 0 1px rgba(0,0,0,0.09),0 0 16px rgba(40,20,40,0.26)"><svg class="a" style="left:0;top:0" width="1081" height="187"><defs><linearGradient id="cg7_0" x1="0" y1="0" x2="0" y2="1"><stop offset="0" stop-color="rgb(214,74,73)" stop-opacity="0.10"/><stop offset="0.85" stop-color="rgb(214,74,73)" stop-opacity="0"/></linearGradient><linearGradient id="cg7_1" x1="0" y1="0" x2="0" y2="1"><stop offset="0" stop-color="rgb(230,122,79)" stop-opacity="0.10"/><stop offset="0.85" stop-color="rgb(230,122,79)" stop-opacity="0"/></linearGradient><linearGradient id="cg7_2" x1="0" y1="0" x2="0" y2="1"><stop offset="0" stop-color="rgb(240,162,90)" stop-opacity="0.10"/><stop offset="0.85" stop-color="rgb(240,162,90)" stop-opacity="0"/></linearGradient><linearGradient id="cg7_3" x1="0" y1="0" x2="0" y2="1"><stop offset="0" stop-color="rgb(233,196,106)" stop-opacity="0.10"/><stop offset="0.85" stop-color="rgb(233,196,106)" stop-opacity="0"/></linearGradient><linearGradient id="cg7_4" x1="0" y1="0" x2="0" y2="1"><stop offset="0" stop-color="rgb(200,198,106)" stop-opacity="0.10"/><stop offset="0.85" stop-color="rgb(200,198,106)" stop-opacity="0"/></linearGradient><linearGradient id="cg7_5" x1="0" y1="0" x2="0" y2="1"><stop offset="0" stop-color="rgb(153,184,98)" stop-opacity="0.10"/><stop offset="0.85" stop-color="rgb(153,184,98)" stop-opacity="0"/></linearGradient><linearGradient id="cg7_6" x1="0" y1="0" x2="0" y2="1"><stop offset="0" stop-color="rgb(100,168,98)" stop-opacity="0.10"/><stop offset="0.85" stop-color="rgb(100,168,98)" stop-opacity="0"/></linearGradient><linearGradient id="cg7_7" x1="0" y1="0" x2="0" y2="1"><stop offset="0" stop-color="rgb(8,154,94)" stop-opacity="0.10"/><stop offset="0.85" stop-color="rgb(8,154,94)" stop-opacity="0"/></linearGradient><linearGradient id="cg7_8" x1="0" y1="0" x2="0" y2="1"><stop offset="0" stop-color="rgb(10,126,110)" stop-opacity="0.10"/><stop offset="0.85" stop-color="rgb(10,126,110)" stop-opacity="0"/></linearGradient></defs><rect x="0.00" y="0" width="120.11" height="187" fill="url(#cg7_0)"/><rect x="120.11" y="0" width="120.11" height="187" fill="url(#cg7_1)"/><rect x="240.22" y="0" width="120.11" height="187" fill="url(#cg7_2)"/><rect x="360.33" y="0" width="120.11" height="187" fill="url(#cg7_3)"/><rect x="480.44" y="0" width="120.11" height="187" fill="url(#cg7_4)"/><rect x="600.56" y="0" width="120.11" height="187" fill="url(#cg7_5)"/><rect x="720.67" y="0" width="120.11" height="187" fill="url(#cg7_6)"/><rect x="840.78" y="0" width="120.11" height="187" fill="url(#cg7_7)"/><rect x="960.89" y="0" width="120.11" height="187" fill="url(#cg7_8)"/><linearGradient id="lg7_1" x1="0" y1="0" x2="0" y2="1"><stop offset="0" stop-color="rgb(230,122,79)" stop-opacity="0.22"/><stop offset="1" stop-color="rgb(230,122,79)" stop-opacity="0.03"/></linearGradient><rect x="119.61" y="0" width="1" height="187" fill="url(#lg7_1)"/><linearGradient id="lg7_2" x1="0" y1="0" x2="0" y2="1"><stop offset="0" stop-color="rgb(240,162,90)" stop-opacity="0.22"/><stop offset="1" stop-color="rgb(240,162,90)" stop-opacity="0.03"/></linearGradient><rect x="239.72" y="0" width="1" height="187" fill="url(#lg7_2)"/><linearGradient id="lg7_3" x1="0" y1="0" x2="0" y2="1"><stop offset="0" stop-color="rgb(233,196,106)" stop-opacity="0.22"/><stop offset="1" stop-color="rgb(233,196,106)" stop-opacity="0.03"/></linearGradient><rect x="359.83" y="0" width="1" height="187" fill="url(#lg7_3)"/><linearGradient id="lg7_4" x1="0" y1="0" x2="0" y2="1"><stop offset="0" stop-color="rgb(200,198,106)" stop-opacity="0.22"/><stop offset="1" stop-color="rgb(200,198,106)" stop-opacity="0.03"/></linearGradient><rect x="479.94" y="0" width="1" height="187" fill="url(#lg7_4)"/><linearGradient id="lg7_5" x1="0" y1="0" x2="0" y2="1"><stop offset="0" stop-color="rgb(153,184,98)" stop-opacity="0.22"/><stop offset="1" stop-color="rgb(153,184,98)" stop-opacity="0.03"/></linearGradient><rect x="600.06" y="0" width="1" height="187" fill="url(#lg7_5)"/><linearGradient id="lg7_6" x1="0" y1="0" x2="0" y2="1"><stop offset="0" stop-color="rgb(100,168,98)" stop-opacity="0.22"/><stop offset="1" stop-color="rgb(100,168,98)" stop-opacity="0.03"/></linearGradient><rect x="720.17" y="0" width="1" height="187" fill="url(#lg7_6)"/><linearGradient id="lg7_7" x1="0" y1="0" x2="0" y2="1"><stop offset="0" stop-color="rgb(8,154,94)" stop-opacity="0.22"/><stop offset="1" stop-color="rgb(8,154,94)" stop-opacity="0.03"/></linearGradient><rect x="840.28" y="0" width="1" height="187" fill="url(#lg7_7)"/><linearGradient id="lg7_8" x1="0" y1="0" x2="0" y2="1"><stop offset="0" stop-color="rgb(10,126,110)" stop-opacity="0.22"/><stop offset="1" stop-color="rgb(10,126,110)" stop-opacity="0.03"/></linearGradient><rect x="960.39" y="0" width="1" height="187" fill="url(#lg7_8)"/><line x1="0" y1="80.2" x2="1081" y2="80.2" stroke="#e8e8e8" stroke-width="1"/></svg><div class="a" style="left:1081px;top:0;width:156px;height:187.7px;background:linear-gradient(225deg,#129a8b 0%,#2aa99a 50%,#4cb3a8 100%)"></div></div><div id="t86" class="t" style="left:1181.00px;top:1779.00px;font-size:31px;color:#f7f7f7;font-weight:bold;direction:rtl;transform:translate(-50%,-50%) scaleX(1.0000);transform-origin:center center;-webkit-text-stroke:1.2px #f7f7f7;">کاما</div><div class="a" style="left:1126px;top:1816.50px;width:111px;height:3px;border-radius:2px;background:rgba(255,255,255,0.3)"></div><div class="a" style="left:1126px;top:1879.50px;width:111px;height:3px;border-radius:2px;background:rgba(255,255,255,0.3)"></div><div id="t87" class="t" style="left:1181.00px;top:1847.00px;font-size:38px;color:#f7f7f7;font-weight:normal;direction:rtl;transform:translate(-50%,-50%) scaleX(1.0000);transform-origin:center center;">۲۹%</div><div class="t" style="right:71.0px;top:1902.00px;transform:translateY(-50%);color:#f7f7f7;direction:ltr"><span style="display:inline-block;font-size:14.5px">ریال</span><span style="display:inline-block;font-size:22px">۲,۷۴۰</span></div><div class="a" style="left:19px;top:1735.00px;width:138px;height:26px;background:#fc9a7e"></div><div id="t88" class="t" style="left:88.00px;top:1748.00px;font-size:16px;color:#fff;font-weight:normal;direction:ltr;transform:translate(-50%,-50%) scaleX(0.8514);transform-origin:center center;">۱۴۰۴/۱۱/۰۵ ۱۶:۰۲:۳۱</div><svg class="a" style="left:0;top:1740.00px" width="1103" height="187"><line x1="922.83" y1="80.2" x2="1042.94" y2="80.2" stroke="#26a69a" stroke-width="1.6"/><circle cx="82.06" cy="80.2" r="14" fill="#eeeeee" stroke="#dedede" stroke-width="5"/><circle cx="562.50" cy="80.2" r="14" fill="#eeeeee" stroke="#dedede" stroke-width="5"/><circle cx="682.61" cy="80.2" r="14" fill="#eeeeee" stroke="#dedede" stroke-width="5"/><circle cx="802.72" cy="80.2" r="14" fill="#eeeeee" stroke="#dedede" stroke-width="5"/><circle cx="1042.94" cy="80.2" r="14.5" fill="#26a69a" stroke="#e2e2e2" stroke-width="4"/><circle cx="922.83" cy="80.2" r="16" fill="#e0e0e0" stroke="#1b9bae" stroke-width="1.6"/><circle cx="922.83" cy="80.2" r="12.5" fill="#26a69a"/><line x1="867.80" y1="42" x2="889.00" y2="42" stroke="#a8a8a8" stroke-width="1.2" stroke-dasharray="4,3"/></svg><div class="a" style="left:1008.00px;top:1769.00px;width:70.00px;height:26px;background:#6abf9a"></div><div id="t89" class="t" style="left:1043.00px;top:1782.00px;font-size:15px;color:#fff;font-weight:normal;direction:ltr;transform:translate(-50%,-50%) scaleX(1.0000);transform-origin:center center;-webkit-text-stroke:0.3px #fff;">۰۴/۰۷/۲۸</div><div class="a" style="left:889.00px;top:1769.00px;width:67.00px;height:26px;background:#6abf9a"></div><div id="t90" class="t" style="left:922.50px;top:1782.00px;font-size:15px;color:#fff;font-weight:normal;direction:ltr;transform:translate(-50%,-50%) scaleX(0.9464);transform-origin:center center;-webkit-text-stroke:0.3px #fff;">۰۴/۱۱/۰۵</div><div class="a" style="left:795.00px;top:1768.50px;width:72.80px;height:27px;background:#c0498d"></div><div id="t91" class="t" style="left:831.40px;top:1782.00px;font-size:14.5px;color:#fff;font-weight:normal;direction:rtl;transform:translate(-50%,-50%) scaleX(0.8647);transform-origin:center center;">۱۰ روز قبل</div><div id="t92" class="t" style="left:982.89px;top:1807.00px;font-size:14px;color:#999;font-weight:normal;direction:rtl;transform:translate(-50%,-50%) scaleX(0.9024);transform-origin:center center;">۹۶ روز</div><div id="t93" class="t" style="right:202.00px;top:1864.50px;font-size:17px;color:#d9532b;font-weight:normal;direction:rtl;transform:translateY(-50%) scaleX(1.0476);transform-origin:right center;">سود انباشته</div><div class="a" style="left:39.00px;top:1883.00px;width:159.00px;height:29px;background:#74b474"></div><div id="t94" class="t" style="left:118.50px;top:1897.50px;font-size:18px;color:#fff;font-weight:normal;direction:rtl;transform:translate(-50%,-50%) scaleX(1.0357);transform-origin:center center;">۴۲۵۷ میلیارد تومان</div><div class="a" style="left:279.00px;top:1883.00px;width:157.00px;height:29px;background:#3ea7b8"></div><div id="t95" class="t" style="left:357.50px;top:1897.50px;font-size:18px;color:#fff;font-weight:normal;direction:rtl;transform:translate(-50%,-50%) scaleX(1.0214);transform-origin:center center;">۳۳۰۰ میلیارد تومان</div><div id="t96" class="t" style="right:782.00px;top:1897.00px;font-size:17px;color:#555;font-weight:normal;direction:rtl;transform:translateY(-50%) scaleX(1.0000);transform-origin:right center;">سرمایه:</div><svg class="a" style="left:0;top:1740.00px" width="700" height="187"><line x1="198.00" y1="157.5" x2="279.00" y2="157.5" stroke="#aab4bc" stroke-width="1.2" stroke-dasharray="5,3"/><polygon points="230.50,157.5 246.50,151 246.50,164" fill="#6a8ca0"/></svg><div id="t97" class="t" style="left:238.50px;top:1880.00px;font-size:16px;color:#3e5060;font-weight:normal;direction:rtl;transform:translate(-50%,-50%) scaleX(1.0000);transform-origin:center center;">۲۹%</div><div class="a" style="left:38.75px;top:1271.43px;width:142.15px;height:29.5px;background:#ee8a5e"></div><div id="t98" class="t" style="left:109.83px;top:1285.93px;font-size:18px;color:#fff;font-weight:normal;direction:rtl;transform:translate(-50%,-50%) scaleX(0.9858);transform-origin:center center;">۹۰۰ میلیارد تومان</div><div class="a" style="left:285.60px;top:1271.43px;width:144.10px;height:29.5px;background:#74b474"></div><div id="t99" class="t" style="left:357.65px;top:1285.93px;font-size:18px;color:#fff;font-weight:normal;direction:rtl;transform:translate(-50%,-50%) scaleX(1.0008);transform-origin:center center;">۷۶۰ میلیارد تومان</div><div class="a" style="left:528.00px;top:1271.43px;width:147.60px;height:29.5px;background:#3ea7b8"></div><div id="t100" class="t" style="left:601.80px;top:1285.93px;font-size:18px;color:#fff;font-weight:normal;direction:rtl;transform:translate(-50%,-50%) scaleX(1.0277);transform-origin:center center;">۵۸۰ میلیارد تومان</div><div id="t101" class="t" style="right:542.50px;top:1285.43px;font-size:17px;color:#555;font-weight:normal;direction:rtl;transform:translateY(-50%) scaleX(1.0000);transform-origin:right center;">سرمایه:</div><svg class="a" style="left:0;top:1128.43px" width="800" height="187"><line x1="180.9" y1="157.5" x2="285.6" y2="157.5" stroke="#7f9cac" stroke-width="1.2" stroke-dasharray="4,3"/><polygon points="225.25,157.5 241.25,151 241.25,164" fill="#6a8ca0"/><line x1="429.7" y1="157.5" x2="528" y2="157.5" stroke="#7f9cac" stroke-width="1.2" stroke-dasharray="4,3"/><polygon points="470.85,157.5 486.85,151 486.85,164" fill="#6a8ca0"/><polyline points="111.25,143 111.25,124.5 601.6,124.5 601.6,143" fill="none" stroke="#7f9cac" stroke-width="1.2" stroke-dasharray="4,3"/><polygon points="348.75,124.5 364.75,118 364.75,131" fill="#6a8ca0"/></svg><div id="t102" class="t" style="left:232.00px;top:1266.93px;font-size:16px;color:#3e5060;font-weight:normal;direction:rtl;transform:translate(-50%,-50%) scaleX(1.0000);transform-origin:center center;">۱۸%</div><div id="t103" class="t" style="left:233.00px;top:1301.93px;font-size:13px;color:#3e5060;font-weight:normal;direction:rtl;transform:translate(-50%,-50%) scaleX(1.1250);transform-origin:center center;">مرحله بعدی</div><div id="t104" class="t" style="left:478.50px;top:1266.93px;font-size:16px;color:#3e5060;font-weight:normal;direction:rtl;transform:translate(-50%,-50%) scaleX(1.0000);transform-origin:center center;">۳۱%</div><div id="t105" class="t" style="left:478.50px;top:1301.93px;font-size:13px;color:#3e5060;font-weight:normal;direction:rtl;transform:translate(-50%,-50%) scaleX(1.0781);transform-origin:center center;">مرحله فعلی</div><div id="t106" class="t" style="left:355.00px;top:1238.43px;font-size:16px;color:#3e5060;font-weight:normal;direction:rtl;transform:translate(-50%,-50%) scaleX(1.0000);transform-origin:center center;">۵۵%</div><div class="t" style="left:626px;top:1028px;font-size:228px;color:rgba(100,100,100,0.215);transform:translate(-50%,-50%) rotate(-54.8deg);direction:ltr"><span style="letter-spacing:-31.2px">@</span><span style="letter-spacing:-16.0px">C</span><span style="letter-spacing:2.3px">o</span><span style="letter-spacing:-0.2px">d</span><span style="letter-spacing:-2.7px">a</span><span style="letter-spacing:4.8px">l</span><span style="letter-spacing:-28.0px">C</span><span style="letter-spacing:-14.1px">h</span><span style="letter-spacing:-17.7px">a</span><span style="letter-spacing:1.1px">r</span><span style="letter-spacing:11.2px">t</span></div><svg class="a" style="left:0;top:1930px" width="1280" height="128"><defs><linearGradient id="fsh" x1="0" y1="0" x2="0" y2="1"><stop offset="0" stop-color="#000" stop-opacity="0"/><stop offset="1" stop-color="#000" stop-opacity="0.06"/></linearGradient></defs><polygon points="0,18 250,18 285.8,74 1280,74 1280,128 0,128" fill="#444c4a"/><polygon points="285.8,18 679,18 708.6,61 312.5,61" fill="#2dba8a"/><polygon points="285.8,18 549,18 578.8,61 312.5,61" fill="#0d875e"/><polygon points="285.8,18 419.4,18 448.5,61 312.5,61" fill="#0a6b4b"/><polygon points="728.3,34.2 1280,34.2 1280,45 735.8,45" fill="#249b73"/><rect x="15" y="74.5" width="216" height="1" fill="#ddd"/></svg><div class="t" style="left:15px;top:1978px;font-size:23px;color:#f2f2f2;transform:translateY(-50%);direction:ltr">@CodalChart</div><div id="t107" class="t" style="left:15.00px;top:2024.00px;font-size:20px;color:#f2f2f2;font-weight:normal;direction:rtl;transform:translateY(-50%) scaleX(1.0070);transform-origin:left center;">کانال کدال چارت</div><div id="t108" class="t" style="right:16.00px;top:2027.00px;font-size:17px;color:#f2f2f2;font-weight:normal;direction:rtl;transform:translateY(-50%) scaleX(0.9892);transform-origin:right center;">پنجشنبه ۱۶ بهمن ۱۴۰۴ ساعت ۰۰:۲۳:۱۵</div></body></html>
